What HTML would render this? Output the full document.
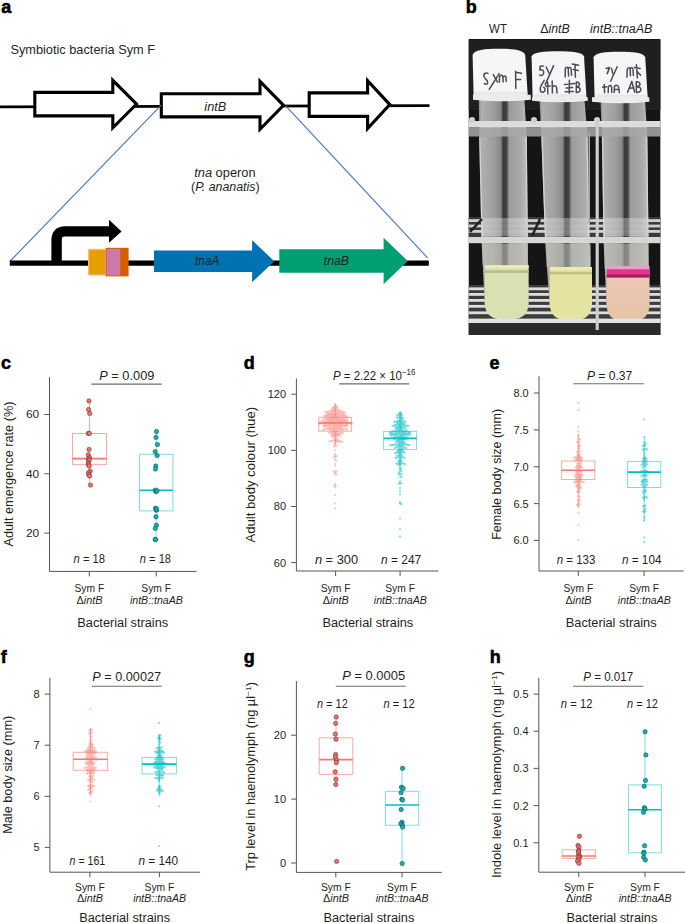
<!DOCTYPE html>
<html><head><meta charset="utf-8"><title>Figure</title>
<style>html,body{margin:0;padding:0;background:#fff;} body{width:685px;height:923px;overflow:hidden;font-family:"Liberation Sans", sans-serif;} svg{display:block;}</style>
</head><body>
<svg width="685" height="923" viewBox="0 0 685 923" font-family='"Liberation Sans", sans-serif'><defs>
<linearGradient id="glass" x1="0" x2="1" y1="0" y2="0">
<stop offset="0" stop-color="#8c8c8c"/><stop offset="0.05" stop-color="#b8b8b8"/>
<stop offset="0.3" stop-color="#a4a6a4"/><stop offset="0.44" stop-color="#8e8e8e"/>
<stop offset="0.49" stop-color="#3a3a3a"/><stop offset="0.56" stop-color="#454545"/><stop offset="0.61" stop-color="#a2a2a2"/>
<stop offset="0.85" stop-color="#b2b2b2"/><stop offset="0.95" stop-color="#c4c4c4"/><stop offset="1" stop-color="#8a8a8a"/>
</linearGradient>
<linearGradient id="pinkliq" x1="0" x2="0" y1="0" y2="1">
<stop offset="0" stop-color="#f0c6c0"/><stop offset="0.4" stop-color="#ebc6b0"/><stop offset="1" stop-color="#e5c6a4"/>
</linearGradient>
</defs><text x="1.20" y="12.90" font-size="18" text-anchor="start" fill="#000" font-weight="bold" stroke="#000" stroke-width="0.55">a</text>
<text x="10.40" y="54.10" font-size="13" text-anchor="start" fill="#231f20" textLength="144.70" lengthAdjust="spacingAndGlyphs" >Symbiotic bacteria Sym F</text>
<line x1="0" y1="106.9" x2="429.5" y2="105.6" stroke="#000" stroke-width="2.7"/>
<polygon points="34.80,92.35 112.80,92.35 112.80,80.35 136.60,104.10 112.80,127.85 112.80,115.85 34.80,115.85" fill="#fff" stroke="#000" stroke-width="3.1" stroke-linejoin="miter" stroke-miterlimit="10"/>
<polygon points="161.30,93.70 260.00,93.70 260.00,81.30 283.50,105.30 260.00,129.30 260.00,116.90 161.30,116.90" fill="#fff" stroke="#000" stroke-width="3.1" stroke-linejoin="miter" stroke-miterlimit="10"/>
<polygon points="309.20,92.85 367.60,92.85 367.60,80.60 389.80,104.60 367.60,128.60 367.60,116.35 309.20,116.35" fill="#fff" stroke="#000" stroke-width="3.1" stroke-linejoin="miter" stroke-miterlimit="10"/>
<text x="215.30" y="111.00" font-size="12.5" text-anchor="middle" fill="#231f20" font-style="italic" textLength="21.90" lengthAdjust="spacingAndGlyphs" >intB</text>
<line x1="161.2" y1="105.2" x2="9.8" y2="261.5" stroke="#4472c4" stroke-width="1.1"/>
<line x1="285.5" y1="105.6" x2="427.6" y2="257.9" stroke="#4472c4" stroke-width="1.1"/>
<text x="224.90" y="176.80" font-size="12.5" text-anchor="middle" fill="#231f20" textLength="61.30" lengthAdjust="spacingAndGlyphs" ><tspan font-style="italic">tna</tspan><tspan> operon</tspan></text>
<text x="225.30" y="191.40" font-size="12.5" text-anchor="middle" fill="#231f20" textLength="68.60" lengthAdjust="spacingAndGlyphs" ><tspan>(</tspan><tspan font-style="italic">P. ananatis</tspan><tspan>)</tspan></text>
<line x1="9.8" y1="263.2" x2="428.8" y2="263.2" stroke="#000" stroke-width="5.2"/>
<path d="M56.6,261 L56.6,240 Q56.6,231.4 65,231.4 L110,231.4" fill="none" stroke="#000" stroke-width="10.4"/>
<polygon points="109,219.7 121.6,231.4 109,242.8" fill="#000"/>
<rect x="88.6" y="249.4" width="17" height="25.6" fill="#e69f00" stroke="#f5b98a" stroke-width="1.2"/>
<rect x="105.6" y="247.8" width="23" height="28.6" fill="#d55e00"/>
<rect x="106.6" y="248.8" width="13.6" height="26.6" fill="#cc79a7"/>
<polygon points="154.00,250.45 252.10,250.45 252.10,240.15 274.30,261.20 252.10,282.25 252.10,271.95 154.00,271.95" fill="#0072b2"/>
<polygon points="279.30,249.35 383.60,249.35 383.60,237.70 407.70,261.00 383.60,284.30 383.60,272.65 279.30,272.65" fill="#009e73"/>
<text x="207.20" y="264.90" font-size="12.5" text-anchor="middle" fill="#231f20" font-style="italic" textLength="24.40" lengthAdjust="spacingAndGlyphs" >tnaA</text>
<text x="336.40" y="264.70" font-size="12.5" text-anchor="middle" fill="#231f20" font-style="italic" textLength="25.10" lengthAdjust="spacingAndGlyphs" >tnaB</text>
<text x="465.80" y="13.10" font-size="18" text-anchor="start" fill="#000" font-weight="bold" stroke="#000" stroke-width="0.55">b</text>
<text x="498.00" y="32.80" font-size="12" text-anchor="middle" fill="#231f20" textLength="17.80" lengthAdjust="spacingAndGlyphs" >WT</text>
<text x="555.00" y="32.80" font-size="12" text-anchor="middle" fill="#231f20" textLength="29.50" lengthAdjust="spacingAndGlyphs" ><tspan>Δ</tspan><tspan font-style="italic">intB</tspan></text>
<text x="621.20" y="32.80" font-size="12" text-anchor="middle" fill="#231f20" textLength="62.40" lengthAdjust="spacingAndGlyphs" ><tspan font-style="italic">intB::tnaAB</tspan></text>
<clipPath id="pc"><rect x="468.5" y="39.0" width="192.10000000000002" height="296.0"/></clipPath>
<g clip-path="url(#pc)"><rect x="468.5" y="39.0" width="192.10000000000002" height="296.0" fill="#151515"/><rect x="468.5" y="40" width="192.10000000000002" height="70" fill="#1f1f1f"/><rect x="468.5" y="217" width="192.10000000000002" height="20" fill="#3a3a3a"/><rect x="468.5" y="285" width="192.10000000000002" height="34" fill="#3c3c3c"/><rect x="468.5" y="323" width="192.10000000000002" height="12" fill="#2a2a2a"/><rect x="468.5" y="219.2" width="192.10000000000002" height="2.8" fill="#cfcfcf"/><rect x="468.5" y="224.6" width="192.10000000000002" height="2.8" fill="#cfcfcf"/><rect x="468.5" y="230.0" width="192.10000000000002" height="2.8" fill="#cfcfcf"/><rect x="468.5" y="287.4" width="192.10000000000002" height="2.8" fill="#dedede"/><rect x="468.5" y="293.0" width="192.10000000000002" height="2.8" fill="#dedede"/><rect x="468.5" y="299.0" width="192.10000000000002" height="2.8" fill="#dedede"/><rect x="468.5" y="304.9" width="192.10000000000002" height="2.8" fill="#dedede"/><rect x="468.5" y="311.4" width="192.10000000000002" height="2.8" fill="#dedede"/><polygon points="478.8,100 524.4,100 526.8,137 527.8,240 528.6,306 484.8,306 481.5,240 479.2,137" fill="url(#glass)" opacity="0.95"/><path d="M479.8,137 L482.1,238 M526.1999999999999,137 L527.1999999999999,238" stroke="#dcdcdc" stroke-width="1.3" opacity="0.85"/><polygon points="481.086,218 527.62,218 527.8,236 481.5,236" fill="#e0e0e0" opacity="0.35"/><polygon points="539.5,100 584.5,100 587.6,137 589.5,240 592.0,306 549.7,306 545.0,240 541.4,137" fill="url(#glass)" opacity="0.95"/><path d="M542.0,137 L545.6,238 M587.0,137 L588.9,238" stroke="#dcdcdc" stroke-width="1.3" opacity="0.85"/><polygon points="544.352,218 589.158,218 589.5,236 545.0,236" fill="#e0e0e0" opacity="0.35"/><polygon points="600.5,100 645.0,100 647.3,137 648.5,240 649.5,306 606.6,306 603.5,240 601.9,137" fill="url(#glass)" opacity="0.95"/><path d="M602.5,137 L604.1,238 M646.6999999999999,137 L647.9,238" stroke="#dcdcdc" stroke-width="1.3" opacity="0.85"/><polygon points="603.212,218 648.284,218 648.5,236 603.5,236" fill="#e0e0e0" opacity="0.35"/><rect x="468.5" y="121.0" width="192.10000000000002" height="6.5" fill="#dcdcdc"/><rect x="468.5" y="127.5" width="192.10000000000002" height="9" fill="#a8a8a8" opacity="0.85"/><rect x="468.5" y="237.0" width="192.10000000000002" height="6.2" fill="#d6d6d6"/><circle cx="472" cy="120" r="3" fill="#d0d0d0"/><circle cx="534" cy="120" r="3" fill="#d0d0d0"/><circle cx="597" cy="120" r="3" fill="#d0d0d0"/><line x1="470" y1="232" x2="482" y2="219" stroke="#222" stroke-width="2.5"/><line x1="532" y1="236" x2="540" y2="219" stroke="#222" stroke-width="2.5"/><rect x="482.5" y="244" width="45.5" height="21.19999999999999" fill="#c4c4c0" opacity="0.55"/><rect x="546.5" y="244" width="44.5" height="23.0" fill="#c4c4c0" opacity="0.55"/><rect x="604.5" y="244" width="44.0" height="24.399999999999977" fill="#c4c4c0" opacity="0.55"/><path d="M484.8,265.2 L528.6,265.2 L528.6,302.2 Q528.6,319.2 511.6,319.2 L501.8,319.2 Q484.8,319.2 484.8,302.2 Z" fill="#d9e0b1"/><rect x="484.8" y="265.2" width="43.8" height="3" fill="#eaedb8"/><rect x="484.8" y="270.3" width="43.8" height="2.6" fill="#b9bd8c"/><path d="M549.7,267.0 L592.0,267.0 L592.0,303.0 Q592.0,320.0 575.0,320.0 L566.7,320.0 Q549.7,320.0 549.7,303.0 Z" fill="#e5e3a2"/><rect x="549.7" y="267.0" width="42.3" height="3" fill="#ecebb2"/><rect x="549.7" y="271.8" width="42.3" height="2.6" fill="#c2bf80"/><path d="M606.6,268.4 L649.5,268.4 L649.5,304.0 Q649.5,321.0 632.5,321.0 L623.6,321.0 Q606.6,321.0 606.6,304.0 Z" fill="url(#pinkliq)"/><rect x="606.6" y="266.0" width="42.9" height="3.2" fill="#e7a0c8"/><rect x="606.6" y="269.2" width="42.9" height="5" fill="#e0358f"/><rect x="606.6" y="274.2" width="42.9" height="3.4" fill="#aa1a5c"/><rect x="468.5" y="318.6" width="192.10000000000002" height="4.4" fill="#e2e2e2"/><rect x="595.6" y="120" width="3.2" height="210" fill="#cdcdcd"/><rect x="588.4" y="132" width="1.6" height="92" fill="#a8a8a8"/><path d="M473.6,95.7 L472.6,55.0 C474.1,49.7 484.90000000000003,48.7 498.90000000000003,48.7 C512.9000000000001,48.7 523.7,49.7 525.2,55.0 L527.7,95.7 Z" fill="#f6f6f6"/><path d="M473.0,94.7 L530.8,94.7 L530.8,99.8 Q501.9,102.8 473.0,99.8 Z" fill="#ececec"/><rect x="474.6" y="91.7" width="52.60000000000002" height="3" fill="#e9e9e9"/><path d="M532.6,98.2 L531.6,56.3 C533.1,52.2 543.8,51.2 557.8,51.2 C571.8,51.2 582.5,52.2 584.0,56.3 L586.5,98.2 Z" fill="#f6f6f6"/><path d="M532.0,97.2 L587.8,97.2 L587.8,100.8 Q559.9,103.8 532.0,100.8 Z" fill="#ececec"/><rect x="533.6" y="94.2" width="52.39999999999998" height="3" fill="#e9e9e9"/><path d="M594.6,98.2 L593.6,57.3 C595.1,52.7 605.4000000000001,51.7 619.4000000000001,51.7 C633.4000000000001,51.7 643.7,52.7 645.2,57.3 L647.7,98.2 Z" fill="#f6f6f6"/><path d="M592.0,97.2 L649.3,97.2 L649.3,101.8 Q620.65,104.8 592.0,101.8 Z" fill="#ececec"/><rect x="595.6" y="94.2" width="51.60000000000002" height="3" fill="#e9e9e9"/><g fill="none" stroke="#4a4a56" stroke-width="1.5" stroke-linecap="round" stroke-linejoin="round"><path d="M488,73.4 C485.5,72.2 482.8,73.8 484.2,77 C485.6,79.6 488.6,80.6 487.6,83.2 C487,84.8 485,84.6 484.4,83.4"/><path d="M493.3,74.6 L497.4,82"/><path d="M499.2,73.6 L489.2,89.4"/><path d="M499.3,82.2 L499.6,76.2 C501,74.4 503,75 503,78 L503.1,82 M503,77.4 C504.4,75.2 506.2,75.6 506.1,78.2 L506.2,81.4"/><path d="M515.6,71.2 L515.8,88.6 M515.6,72.2 L521.6,73.2 M515.8,79.2 L520.6,79.6"/><path d="M543.2,66 L540.2,66.2 L539.8,70 C542.2,69 544.2,70.6 543.6,73.2 C543,75.6 541,76 539.6,75"/><path d="M546.2,67 L549.6,74.2"/><path d="M553.6,65.6 L545.2,84.6"/><path d="M565.2,77 L565.3,68.4 C566.3,66.6 567.8,67 568.2,69 L568.6,76 M568.3,69 C569.2,66.6 570.8,67 571.1,69.2 L571.6,75.2"/><path d="M572.2,64 L578.6,65.2 M575,64.6 L575.4,77.2 M573.2,69.6 L578.2,70.6"/><path d="M544.2,80.4 L541.2,85.4 C539.4,89.2 540.2,92.8 543,92.2 C545.6,91.6 545.6,88.2 543.6,87.2"/><path d="M547.6,82 L547.8,93.8 M545.6,86.2 L550.2,86"/><path d="M552.2,81 L552.4,93 M552.4,87.2 C553.8,85 556.2,85.2 556.6,87.6 L557,93"/><path d="M564.6,84.4 L575,83.4 M569.4,80.2 L569.2,93.2 M565.2,91.8 L573.4,91.6 M566,88 L572.6,87.6"/><path d="M576.4,82 L576.2,92.4 M576.4,82 C580.4,81.8 580.6,86.2 576.6,87 C581.2,87.2 581.8,92.4 576.2,92.4"/><path d="M606.2,68.4 L609.6,67.6 L607.2,73.6"/><path d="M611.6,68.4 L612.8,73.6"/><path d="M617.2,66.8 L610.6,81.2"/><path d="M627,77.2 L627.2,69.2 C628.2,67 629.8,67.4 630.2,69.4 L630.4,75.8 M630.3,69.4 C631.2,66.8 632.8,67.2 633,69.6 L633.4,75.4"/><path d="M636.4,64.8 L637.4,78 M634.4,67.4 L640.2,68.4 M636.8,71.2 L640.6,75.2"/><path d="M604.2,84.4 L604.6,92.8 M602.6,87.2 L606.6,86.8"/><path d="M608.2,92.6 L608.4,86.6 C609.4,84.8 611.4,85.2 611.6,87.4 L611.8,92.4"/><path d="M614.2,92.6 L614.4,86.4 C615.8,84.8 618,85 618.6,87 L619.4,92.6 M614.6,89.6 L618.8,89.4"/><path d="M627.6,92.2 L631.8,81.4 L634.6,92 M629.4,88.2 L633.8,87.8"/><path d="M636.2,81.8 L636.4,92.4 M636.2,81.8 C641,81.4 641.4,86 636.6,86.8 C642.2,86.8 642.6,92.4 636.4,92.4"/></g></g>
<text x="1.00" y="368.50" font-size="18" text-anchor="start" fill="#000" font-weight="bold" stroke="#000" stroke-width="0.55">c</text>
<line x1="89.50" y1="400.90" x2="89.50" y2="433.50" stroke="#fba9a4" stroke-width="1"/>
<line x1="89.50" y1="464.60" x2="89.50" y2="485.10" stroke="#fba9a4" stroke-width="1"/>
<rect x="72.50" y="433.50" width="34.00" height="31.10" fill="none" stroke="#fba9a4" stroke-width="1"/>
<line x1="72.50" y1="458.60" x2="106.50" y2="458.60" stroke="#f8766d" stroke-width="1.6"/>
<line x1="156.20" y1="431.50" x2="156.20" y2="454.30" stroke="#7fdcdf" stroke-width="1"/>
<line x1="156.20" y1="510.90" x2="156.20" y2="539.50" stroke="#7fdcdf" stroke-width="1"/>
<rect x="139.50" y="454.30" width="33.40" height="56.60" fill="none" stroke="#7fdcdf" stroke-width="1"/>
<line x1="139.50" y1="490.30" x2="172.90" y2="490.30" stroke="#00bfc4" stroke-width="1.6"/>
<g fill="#f0706a" stroke="#4a2a28" stroke-width="0.5"><circle cx="88.98" cy="400.90" r="2.2"/><circle cx="88.56" cy="409.50" r="2.2"/><circle cx="89.76" cy="413.40" r="2.2"/><circle cx="88.37" cy="433.40" r="2.2"/><circle cx="89.49" cy="433.40" r="2.2"/><circle cx="89.08" cy="449.40" r="2.2"/><circle cx="88.34" cy="454.80" r="2.2"/><circle cx="89.42" cy="457.70" r="2.2"/><circle cx="88.29" cy="459.00" r="2.2"/><circle cx="89.24" cy="460.10" r="2.2"/><circle cx="88.37" cy="462.60" r="2.2"/><circle cx="88.42" cy="464.50" r="2.2"/><circle cx="89.22" cy="466.00" r="2.2"/><circle cx="90.18" cy="471.30" r="2.2"/><circle cx="88.50" cy="472.80" r="2.2"/><circle cx="88.74" cy="474.70" r="2.2"/><circle cx="89.71" cy="476.00" r="2.2"/><circle cx="90.47" cy="485.10" r="2.2"/></g>
<g fill="#13b1b6" stroke="#0d3f40" stroke-width="0.5"><circle cx="156.49" cy="431.50" r="2.2"/><circle cx="156.05" cy="437.40" r="2.2"/><circle cx="157.44" cy="444.50" r="2.2"/><circle cx="155.21" cy="451.70" r="2.2"/><circle cx="157.16" cy="455.60" r="2.2"/><circle cx="155.80" cy="466.00" r="2.2"/><circle cx="155.45" cy="469.00" r="2.2"/><circle cx="155.38" cy="490.10" r="2.2"/><circle cx="155.84" cy="491.60" r="2.2"/><circle cx="157.06" cy="490.80" r="2.2"/><circle cx="155.53" cy="508.30" r="2.2"/><circle cx="156.50" cy="510.20" r="2.2"/><circle cx="156.63" cy="509.00" r="2.2"/><circle cx="155.99" cy="516.70" r="2.2"/><circle cx="156.41" cy="525.20" r="2.2"/><circle cx="155.25" cy="528.40" r="2.2"/><circle cx="155.24" cy="539.50" r="2.2"/><circle cx="155.59" cy="539.50" r="2.2"/></g>
<path d="M49.5,377.2 L49.5,571.4 L196.5,571.4" fill="none" stroke="#555555" stroke-width="1"/>
<line x1="44.3" y1="414.5" x2="49.5" y2="414.5" stroke="#555555" stroke-width="1"/>
<text x="39.20" y="418.40" font-size="11" text-anchor="end" fill="#231f20" textLength="13.20" lengthAdjust="spacingAndGlyphs" >60</text>
<line x1="44.3" y1="473.8" x2="49.5" y2="473.8" stroke="#555555" stroke-width="1"/>
<text x="39.20" y="477.70" font-size="11" text-anchor="end" fill="#231f20" textLength="13.20" lengthAdjust="spacingAndGlyphs" >40</text>
<line x1="44.3" y1="533.1" x2="49.5" y2="533.1" stroke="#555555" stroke-width="1"/>
<text x="39.20" y="537.00" font-size="11" text-anchor="end" fill="#231f20" textLength="13.20" lengthAdjust="spacingAndGlyphs" >20</text>
<line x1="89.3" y1="571.4" x2="89.3" y2="576.4" stroke="#555555" stroke-width="1"/>
<line x1="156.2" y1="571.4" x2="156.2" y2="576.4" stroke="#555555" stroke-width="1"/>
<text x="89.30" y="592.20" font-size="10" text-anchor="middle" fill="#231f20" textLength="29.80" lengthAdjust="spacingAndGlyphs" >Sym F</text>
<text x="156.20" y="592.20" font-size="10" text-anchor="middle" fill="#231f20" textLength="29.80" lengthAdjust="spacingAndGlyphs" >Sym F</text>
<text x="89.50" y="603.80" font-size="10" text-anchor="middle" fill="#231f20" textLength="26.00" lengthAdjust="spacingAndGlyphs" ><tspan>Δ</tspan><tspan font-style="italic">intB</tspan></text>
<text x="156.40" y="603.80" font-size="10" text-anchor="middle" fill="#231f20" textLength="52.90" lengthAdjust="spacingAndGlyphs" ><tspan font-style="italic">intB::tnaAB</tspan></text>
<text x="122.75" y="627.00" font-size="12.3" text-anchor="middle" fill="#231f20" textLength="90.80" lengthAdjust="spacingAndGlyphs" >Bacterial strains</text>
<text x="89.30" y="562.90" font-size="12" text-anchor="middle" fill="#231f20" textLength="31.50" lengthAdjust="spacingAndGlyphs" ><tspan font-style="italic">n</tspan><tspan> = 18</tspan></text>
<text x="155.40" y="562.90" font-size="12" text-anchor="middle" fill="#231f20" textLength="31.20" lengthAdjust="spacingAndGlyphs" ><tspan font-style="italic">n</tspan><tspan> = 18</tspan></text>
<line x1="91.3" y1="384.1" x2="161.8" y2="384.1" stroke="#6d6d6d" stroke-width="1.1"/>
<text x="126.80" y="380.00" font-size="12.3" text-anchor="middle" fill="#231f20" textLength="55.20" lengthAdjust="spacingAndGlyphs" ><tspan font-style="italic">P</tspan><tspan> = 0.009</tspan></text>
<text x="12.50" y="474.00" font-size="12.2" text-anchor="middle" fill="#231f20" textLength="145.10" lengthAdjust="spacingAndGlyphs" transform="rotate(-90 12.50 474.00)" >Adult emergence rate (%)</text>
<text x="243.80" y="369.00" font-size="18" text-anchor="start" fill="#000" font-weight="bold" stroke="#000" stroke-width="0.55">d</text>
<line x1="335.20" y1="403.80" x2="335.20" y2="417.40" stroke="#fba9a4" stroke-width="1"/>
<line x1="335.20" y1="431.20" x2="335.20" y2="445.00" stroke="#fba9a4" stroke-width="1"/>
<rect x="318.80" y="417.40" width="32.80" height="13.80" fill="none" stroke="#fba9a4" stroke-width="1"/>
<line x1="318.80" y1="423.00" x2="351.60" y2="423.00" stroke="#f8766d" stroke-width="1.6"/>
<line x1="400.10" y1="411.60" x2="400.10" y2="431.40" stroke="#7fdcdf" stroke-width="1"/>
<line x1="400.10" y1="449.60" x2="400.10" y2="470.00" stroke="#7fdcdf" stroke-width="1"/>
<rect x="383.60" y="431.40" width="33.00" height="18.20" fill="none" stroke="#7fdcdf" stroke-width="1"/>
<line x1="383.60" y1="438.40" x2="416.60" y2="438.40" stroke="#00bfc4" stroke-width="1.6"/>
<g fill="#f8766d" fill-opacity="0.42"><circle cx="335.20" cy="403.98" r="1.1"/><circle cx="335.20" cy="405.73" r="1.1"/><circle cx="336.70" cy="406.06" r="1.1"/><circle cx="334.45" cy="406.97" r="1.1"/><circle cx="332.95" cy="407.16" r="1.1"/><circle cx="335.70" cy="407.52" r="1.1"/><circle cx="337.20" cy="407.52" r="1.1"/><circle cx="334.45" cy="408.33" r="1.1"/><circle cx="332.45" cy="408.49" r="1.1"/><circle cx="335.70" cy="409.06" r="1.1"/><circle cx="333.70" cy="409.45" r="1.1"/><circle cx="337.20" cy="409.47" r="1.1"/><circle cx="338.70" cy="409.60" r="1.1"/><circle cx="332.45" cy="410.01" r="1.1"/><circle cx="334.95" cy="410.25" r="1.1"/><circle cx="330.95" cy="410.37" r="1.1"/><circle cx="339.95" cy="410.45" r="1.1"/><circle cx="336.20" cy="411.04" r="1.1"/><circle cx="333.70" cy="411.14" r="1.1"/><circle cx="337.70" cy="411.23" r="1.1"/><circle cx="329.70" cy="411.27" r="1.1"/><circle cx="331.95" cy="411.32" r="1.1"/><circle cx="341.20" cy="411.34" r="1.1"/><circle cx="328.20" cy="411.42" r="1.1"/><circle cx="342.70" cy="411.48" r="1.1"/><circle cx="334.95" cy="411.76" r="1.1"/><circle cx="338.95" cy="411.85" r="1.1"/><circle cx="326.70" cy="411.91" r="1.1"/><circle cx="344.20" cy="411.91" r="1.1"/><circle cx="325.20" cy="412.14" r="1.1"/><circle cx="336.45" cy="412.37" r="1.1"/><circle cx="333.20" cy="412.46" r="1.1"/><circle cx="331.45" cy="412.58" r="1.1"/><circle cx="340.20" cy="412.61" r="1.1"/><circle cx="337.70" cy="412.99" r="1.1"/><circle cx="335.20" cy="413.24" r="1.1"/><circle cx="330.20" cy="413.27" r="1.1"/><circle cx="341.45" cy="413.32" r="1.1"/><circle cx="328.70" cy="413.40" r="1.1"/><circle cx="342.95" cy="413.44" r="1.1"/><circle cx="327.20" cy="413.44" r="1.1"/><circle cx="344.45" cy="413.47" r="1.1"/><circle cx="336.45" cy="413.96" r="1.1"/><circle cx="333.95" cy="414.00" r="1.1"/><circle cx="332.45" cy="414.05" r="1.1"/><circle cx="338.70" cy="414.06" r="1.1"/><circle cx="340.20" cy="414.37" r="1.1"/><circle cx="330.95" cy="414.44" r="1.1"/><circle cx="335.20" cy="414.65" r="1.1"/><circle cx="329.45" cy="414.67" r="1.1"/><circle cx="341.70" cy="414.74" r="1.1"/><circle cx="327.95" cy="414.85" r="1.1"/><circle cx="337.45" cy="414.88" r="1.1"/><circle cx="343.20" cy="415.08" r="1.1"/><circle cx="333.20" cy="415.20" r="1.1"/><circle cx="326.45" cy="415.21" r="1.1"/><circle cx="344.70" cy="415.29" r="1.1"/><circle cx="339.20" cy="415.32" r="1.1"/><circle cx="324.95" cy="415.44" r="1.1"/><circle cx="346.20" cy="415.49" r="1.1"/><circle cx="336.20" cy="415.59" r="1.1"/><circle cx="334.45" cy="415.79" r="1.1"/><circle cx="331.95" cy="415.90" r="1.1"/><circle cx="330.45" cy="415.93" r="1.1"/><circle cx="337.45" cy="416.23" r="1.1"/><circle cx="340.20" cy="416.25" r="1.1"/><circle cx="328.95" cy="416.36" r="1.1"/><circle cx="341.70" cy="416.37" r="1.1"/><circle cx="327.45" cy="416.37" r="1.1"/><circle cx="343.20" cy="416.45" r="1.1"/><circle cx="325.95" cy="416.51" r="1.1"/><circle cx="323.95" cy="416.51" r="1.1"/><circle cx="333.20" cy="416.61" r="1.1"/><circle cx="335.45" cy="416.80" r="1.1"/><circle cx="338.70" cy="416.98" r="1.1"/><circle cx="344.45" cy="417.01" r="1.1"/><circle cx="331.20" cy="417.14" r="1.1"/><circle cx="345.95" cy="417.17" r="1.1"/><circle cx="347.45" cy="417.23" r="1.1"/><circle cx="336.70" cy="417.43" r="1.1"/><circle cx="334.45" cy="417.74" r="1.1"/><circle cx="332.45" cy="417.83" r="1.1"/><circle cx="339.95" cy="417.87" r="1.1"/><circle cx="330.20" cy="418.08" r="1.1"/><circle cx="335.70" cy="418.41" r="1.1"/><circle cx="337.70" cy="418.43" r="1.1"/><circle cx="341.20" cy="418.48" r="1.1"/><circle cx="328.70" cy="418.57" r="1.1"/><circle cx="342.70" cy="418.63" r="1.1"/><circle cx="327.20" cy="418.70" r="1.1"/><circle cx="333.45" cy="418.76" r="1.1"/><circle cx="331.70" cy="418.97" r="1.1"/><circle cx="338.95" cy="419.03" r="1.1"/><circle cx="344.20" cy="419.10" r="1.1"/><circle cx="325.70" cy="419.16" r="1.1"/><circle cx="345.70" cy="419.29" r="1.1"/><circle cx="334.70" cy="419.42" r="1.1"/><circle cx="336.70" cy="419.42" r="1.1"/><circle cx="330.20" cy="419.43" r="1.1"/><circle cx="324.20" cy="419.51" r="1.1"/><circle cx="347.20" cy="419.51" r="1.1"/><circle cx="340.20" cy="419.70" r="1.1"/><circle cx="341.70" cy="419.82" r="1.1"/><circle cx="332.70" cy="419.89" r="1.1"/><circle cx="337.95" cy="419.99" r="1.1"/><circle cx="328.95" cy="420.14" r="1.1"/><circle cx="327.45" cy="420.18" r="1.1"/><circle cx="343.20" cy="420.23" r="1.1"/><circle cx="322.95" cy="420.32" r="1.1"/><circle cx="335.70" cy="420.36" r="1.1"/><circle cx="331.45" cy="420.45" r="1.1"/><circle cx="333.95" cy="420.59" r="1.1"/><circle cx="339.20" cy="420.66" r="1.1"/><circle cx="325.95" cy="420.66" r="1.1"/><circle cx="344.45" cy="420.76" r="1.1"/><circle cx="345.95" cy="420.77" r="1.1"/><circle cx="347.70" cy="420.79" r="1.1"/><circle cx="321.45" cy="420.82" r="1.1"/><circle cx="336.95" cy="420.97" r="1.1"/><circle cx="330.20" cy="421.11" r="1.1"/><circle cx="340.70" cy="421.15" r="1.1"/><circle cx="332.70" cy="421.28" r="1.1"/><circle cx="342.20" cy="421.38" r="1.1"/><circle cx="328.70" cy="421.48" r="1.1"/><circle cx="334.95" cy="421.59" r="1.1"/><circle cx="338.20" cy="421.65" r="1.1"/><circle cx="327.20" cy="421.78" r="1.1"/><circle cx="331.45" cy="421.85" r="1.1"/><circle cx="343.45" cy="421.95" r="1.1"/><circle cx="339.70" cy="422.08" r="1.1"/><circle cx="336.20" cy="422.10" r="1.1"/><circle cx="325.70" cy="422.13" r="1.1"/><circle cx="344.95" cy="422.15" r="1.1"/><circle cx="324.20" cy="422.16" r="1.1"/><circle cx="333.70" cy="422.38" r="1.1"/><circle cx="346.45" cy="422.38" r="1.1"/><circle cx="329.95" cy="422.45" r="1.1"/><circle cx="341.20" cy="422.45" r="1.1"/><circle cx="322.70" cy="422.49" r="1.1"/><circle cx="347.95" cy="422.50" r="1.1"/><circle cx="337.45" cy="422.85" r="1.1"/><circle cx="332.45" cy="422.94" r="1.1"/><circle cx="334.95" cy="422.94" r="1.1"/><circle cx="328.70" cy="422.96" r="1.1"/><circle cx="342.45" cy="423.01" r="1.1"/><circle cx="326.95" cy="423.12" r="1.1"/><circle cx="338.95" cy="423.25" r="1.1"/><circle cx="343.95" cy="423.27" r="1.1"/><circle cx="324.95" cy="423.29" r="1.1"/><circle cx="321.45" cy="423.34" r="1.1"/><circle cx="349.20" cy="423.35" r="1.1"/><circle cx="330.95" cy="423.38" r="1.1"/><circle cx="319.95" cy="423.38" r="1.1"/><circle cx="350.70" cy="423.39" r="1.1"/><circle cx="345.45" cy="423.41" r="1.1"/><circle cx="336.20" cy="423.58" r="1.1"/><circle cx="340.45" cy="423.61" r="1.1"/><circle cx="318.45" cy="423.61" r="1.1"/><circle cx="346.95" cy="423.65" r="1.1"/><circle cx="323.45" cy="423.69" r="1.1"/><circle cx="352.20" cy="423.70" r="1.1"/><circle cx="333.70" cy="423.81" r="1.1"/><circle cx="329.70" cy="424.04" r="1.1"/><circle cx="327.95" cy="424.13" r="1.1"/><circle cx="334.95" cy="424.37" r="1.1"/><circle cx="337.45" cy="424.46" r="1.1"/><circle cx="332.45" cy="424.49" r="1.1"/><circle cx="339.45" cy="424.57" r="1.1"/><circle cx="341.45" cy="424.61" r="1.1"/><circle cx="342.95" cy="424.63" r="1.1"/><circle cx="330.95" cy="424.77" r="1.1"/><circle cx="326.70" cy="424.84" r="1.1"/><circle cx="344.45" cy="424.95" r="1.1"/><circle cx="325.20" cy="424.97" r="1.1"/><circle cx="336.20" cy="424.98" r="1.1"/><circle cx="345.95" cy="425.01" r="1.1"/><circle cx="333.95" cy="425.33" r="1.1"/><circle cx="329.45" cy="425.39" r="1.1"/><circle cx="323.70" cy="425.41" r="1.1"/><circle cx="347.45" cy="425.45" r="1.1"/><circle cx="338.45" cy="425.56" r="1.1"/><circle cx="340.45" cy="425.69" r="1.1"/><circle cx="335.20" cy="425.99" r="1.1"/><circle cx="332.70" cy="426.00" r="1.1"/><circle cx="341.95" cy="426.01" r="1.1"/><circle cx="336.95" cy="426.20" r="1.1"/><circle cx="331.20" cy="426.27" r="1.1"/><circle cx="328.45" cy="426.33" r="1.1"/><circle cx="343.45" cy="426.37" r="1.1"/><circle cx="326.95" cy="426.39" r="1.1"/><circle cx="344.95" cy="426.40" r="1.1"/><circle cx="325.45" cy="426.41" r="1.1"/><circle cx="346.45" cy="426.43" r="1.1"/><circle cx="333.95" cy="426.75" r="1.1"/><circle cx="339.20" cy="426.78" r="1.1"/><circle cx="329.95" cy="426.81" r="1.1"/><circle cx="324.20" cy="426.93" r="1.1"/><circle cx="340.70" cy="427.02" r="1.1"/><circle cx="335.70" cy="427.30" r="1.1"/><circle cx="337.20" cy="427.75" r="1.1"/><circle cx="332.95" cy="427.81" r="1.1"/><circle cx="331.45" cy="427.95" r="1.1"/><circle cx="334.45" cy="428.07" r="1.1"/><circle cx="338.70" cy="428.24" r="1.1"/><circle cx="340.20" cy="428.33" r="1.1"/><circle cx="329.95" cy="428.39" r="1.1"/><circle cx="341.70" cy="428.49" r="1.1"/><circle cx="328.45" cy="428.50" r="1.1"/><circle cx="335.70" cy="428.80" r="1.1"/><circle cx="343.20" cy="428.81" r="1.1"/><circle cx="326.95" cy="428.87" r="1.1"/><circle cx="344.70" cy="428.88" r="1.1"/><circle cx="325.45" cy="428.96" r="1.1"/><circle cx="346.20" cy="428.98" r="1.1"/><circle cx="333.45" cy="429.10" r="1.1"/><circle cx="337.20" cy="429.22" r="1.1"/><circle cx="331.95" cy="429.45" r="1.1"/><circle cx="339.45" cy="429.46" r="1.1"/><circle cx="324.20" cy="429.48" r="1.1"/><circle cx="347.45" cy="429.52" r="1.1"/><circle cx="330.45" cy="429.70" r="1.1"/><circle cx="334.70" cy="429.73" r="1.1"/><circle cx="340.95" cy="429.75" r="1.1"/><circle cx="328.95" cy="429.80" r="1.1"/><circle cx="322.70" cy="429.87" r="1.1"/><circle cx="342.45" cy="429.98" r="1.1"/><circle cx="336.20" cy="430.23" r="1.1"/><circle cx="333.95" cy="430.97" r="1.1"/><circle cx="337.45" cy="431.04" r="1.1"/><circle cx="332.45" cy="431.18" r="1.1"/><circle cx="335.20" cy="431.90" r="1.1"/><circle cx="338.45" cy="432.04" r="1.1"/><circle cx="336.70" cy="432.30" r="1.1"/><circle cx="333.70" cy="432.31" r="1.1"/><circle cx="331.95" cy="432.47" r="1.1"/><circle cx="339.95" cy="432.52" r="1.1"/><circle cx="330.45" cy="432.68" r="1.1"/><circle cx="341.45" cy="432.96" r="1.1"/><circle cx="328.95" cy="433.08" r="1.1"/><circle cx="342.95" cy="433.20" r="1.1"/><circle cx="335.20" cy="433.47" r="1.1"/><circle cx="336.70" cy="433.69" r="1.1"/><circle cx="333.70" cy="433.80" r="1.1"/><circle cx="338.20" cy="434.01" r="1.1"/><circle cx="332.20" cy="434.13" r="1.1"/><circle cx="339.70" cy="434.26" r="1.1"/><circle cx="335.70" cy="434.73" r="1.1"/><circle cx="337.20" cy="435.04" r="1.1"/><circle cx="334.45" cy="435.24" r="1.1"/><circle cx="332.95" cy="435.32" r="1.1"/><circle cx="338.70" cy="435.35" r="1.1"/><circle cx="331.45" cy="435.46" r="1.1"/><circle cx="340.45" cy="435.48" r="1.1"/><circle cx="335.70" cy="436.08" r="1.1"/><circle cx="333.95" cy="436.56" r="1.1"/><circle cx="336.95" cy="436.76" r="1.1"/><circle cx="332.45" cy="436.88" r="1.1"/><circle cx="335.20" cy="437.99" r="1.1"/><circle cx="336.45" cy="438.52" r="1.1"/><circle cx="334.20" cy="439.08" r="1.1"/><circle cx="337.70" cy="439.37" r="1.1"/><circle cx="335.20" cy="440.27" r="1.1"/><circle cx="336.70" cy="440.59" r="1.1"/><circle cx="333.70" cy="440.76" r="1.1"/><circle cx="338.20" cy="440.88" r="1.1"/><circle cx="332.20" cy="440.94" r="1.1"/><circle cx="339.70" cy="441.03" r="1.1"/><circle cx="330.70" cy="441.09" r="1.1"/><circle cx="335.20" cy="441.63" r="1.1"/><circle cx="340.95" cy="441.66" r="1.1"/><circle cx="329.45" cy="441.75" r="1.1"/><circle cx="342.45" cy="441.82" r="1.1"/><circle cx="337.20" cy="441.85" r="1.1"/><circle cx="335.20" cy="443.90" r="1.1"/><circle cx="335.20" cy="445.63" r="1.1"/><circle cx="336.70" cy="445.99" r="1.1"/><circle cx="333.95" cy="446.45" r="1.1"/><circle cx="335.20" cy="450.01" r="1.1"/><circle cx="335.20" cy="453.90" r="1.1"/><circle cx="335.20" cy="455.50" r="1.1"/><circle cx="336.45" cy="456.05" r="1.1"/><circle cx="335.20" cy="456.94" r="1.1"/><circle cx="333.70" cy="457.24" r="1.1"/><circle cx="335.20" cy="459.64" r="1.1"/><circle cx="336.20" cy="460.66" r="1.1"/><circle cx="335.20" cy="463.76" r="1.1"/><circle cx="335.20" cy="465.51" r="1.1"/><circle cx="335.20" cy="471.32" r="1.1"/><circle cx="336.70" cy="471.35" r="1.1"/><circle cx="333.70" cy="471.73" r="1.1"/><circle cx="335.20" cy="473.06" r="1.1"/><circle cx="336.45" cy="473.79" r="1.1"/><circle cx="334.70" cy="474.37" r="1.1"/><circle cx="335.20" cy="484.10" r="1.1"/><circle cx="335.70" cy="485.42" r="1.1"/><circle cx="334.20" cy="485.82" r="1.1"/><circle cx="335.20" cy="487.32" r="1.1"/><circle cx="335.20" cy="495.03" r="1.1"/><circle cx="335.20" cy="503.50" r="1.1"/><circle cx="335.20" cy="508.50" r="1.1"/></g>
<g fill="#00bfc4" fill-opacity="0.5"><circle cx="400.00" cy="412.44" r="1.1"/><circle cx="401.50" cy="412.86" r="1.1"/><circle cx="399.50" cy="413.75" r="1.1"/><circle cx="400.75" cy="414.29" r="1.1"/><circle cx="398.25" cy="414.31" r="1.1"/><circle cx="402.00" cy="414.88" r="1.1"/><circle cx="399.50" cy="415.12" r="1.1"/><circle cx="397.25" cy="415.41" r="1.1"/><circle cx="400.75" cy="415.96" r="1.1"/><circle cx="399.75" cy="416.90" r="1.1"/><circle cx="401.00" cy="417.51" r="1.1"/><circle cx="398.50" cy="417.57" r="1.1"/><circle cx="402.50" cy="417.63" r="1.1"/><circle cx="397.00" cy="417.80" r="1.1"/><circle cx="400.00" cy="418.73" r="1.1"/><circle cx="401.50" cy="418.77" r="1.1"/><circle cx="403.25" cy="418.79" r="1.1"/><circle cx="400.00" cy="420.41" r="1.1"/><circle cx="401.50" cy="420.42" r="1.1"/><circle cx="398.75" cy="420.92" r="1.1"/><circle cx="402.75" cy="421.14" r="1.1"/><circle cx="397.25" cy="421.19" r="1.1"/><circle cx="404.25" cy="421.37" r="1.1"/><circle cx="395.75" cy="421.49" r="1.1"/><circle cx="400.50" cy="421.70" r="1.1"/><circle cx="405.75" cy="421.74" r="1.1"/><circle cx="394.25" cy="421.96" r="1.1"/><circle cx="399.25" cy="422.29" r="1.1"/><circle cx="401.75" cy="422.59" r="1.1"/><circle cx="398.00" cy="422.81" r="1.1"/><circle cx="400.50" cy="423.14" r="1.1"/><circle cx="403.00" cy="423.40" r="1.1"/><circle cx="396.75" cy="423.41" r="1.1"/><circle cx="404.50" cy="423.46" r="1.1"/><circle cx="399.75" cy="424.35" r="1.1"/><circle cx="401.25" cy="424.39" r="1.1"/><circle cx="398.25" cy="424.51" r="1.1"/><circle cx="402.50" cy="424.91" r="1.1"/><circle cx="396.75" cy="424.96" r="1.1"/><circle cx="404.00" cy="425.13" r="1.1"/><circle cx="395.25" cy="425.16" r="1.1"/><circle cx="405.50" cy="425.44" r="1.1"/><circle cx="400.50" cy="425.56" r="1.1"/><circle cx="399.00" cy="425.64" r="1.1"/><circle cx="394.00" cy="425.72" r="1.1"/><circle cx="407.00" cy="425.88" r="1.1"/><circle cx="392.50" cy="425.95" r="1.1"/><circle cx="408.50" cy="426.04" r="1.1"/><circle cx="401.50" cy="426.59" r="1.1"/><circle cx="398.00" cy="426.70" r="1.1"/><circle cx="400.00" cy="426.82" r="1.1"/><circle cx="403.00" cy="427.04" r="1.1"/><circle cx="396.75" cy="427.27" r="1.1"/><circle cx="404.50" cy="427.41" r="1.1"/><circle cx="395.25" cy="427.49" r="1.1"/><circle cx="401.00" cy="427.89" r="1.1"/><circle cx="399.50" cy="428.17" r="1.1"/><circle cx="398.00" cy="428.36" r="1.1"/><circle cx="402.50" cy="428.36" r="1.1"/><circle cx="405.50" cy="428.39" r="1.1"/><circle cx="396.50" cy="428.68" r="1.1"/><circle cx="400.00" cy="429.55" r="1.1"/><circle cx="401.50" cy="429.74" r="1.1"/><circle cx="398.50" cy="429.87" r="1.1"/><circle cx="403.00" cy="430.21" r="1.1"/><circle cx="397.00" cy="430.37" r="1.1"/><circle cx="404.50" cy="430.62" r="1.1"/><circle cx="395.50" cy="430.62" r="1.1"/><circle cx="406.00" cy="430.72" r="1.1"/><circle cx="400.00" cy="431.09" r="1.1"/><circle cx="401.50" cy="431.31" r="1.1"/><circle cx="398.50" cy="431.39" r="1.1"/><circle cx="394.25" cy="431.41" r="1.1"/><circle cx="407.25" cy="431.42" r="1.1"/><circle cx="392.75" cy="431.46" r="1.1"/><circle cx="403.25" cy="431.55" r="1.1"/><circle cx="396.50" cy="431.67" r="1.1"/><circle cx="404.75" cy="431.97" r="1.1"/><circle cx="408.50" cy="432.04" r="1.1"/><circle cx="391.50" cy="432.15" r="1.1"/><circle cx="410.00" cy="432.22" r="1.1"/><circle cx="390.00" cy="432.31" r="1.1"/><circle cx="400.00" cy="432.74" r="1.1"/><circle cx="401.50" cy="432.90" r="1.1"/><circle cx="398.50" cy="433.00" r="1.1"/><circle cx="403.00" cy="433.09" r="1.1"/><circle cx="397.00" cy="433.16" r="1.1"/><circle cx="395.50" cy="433.29" r="1.1"/><circle cx="404.50" cy="433.34" r="1.1"/><circle cx="406.00" cy="433.45" r="1.1"/><circle cx="394.00" cy="433.58" r="1.1"/><circle cx="407.50" cy="433.59" r="1.1"/><circle cx="392.50" cy="433.67" r="1.1"/><circle cx="409.00" cy="433.68" r="1.1"/><circle cx="391.00" cy="433.72" r="1.1"/><circle cx="410.50" cy="433.84" r="1.1"/><circle cx="389.50" cy="433.98" r="1.1"/><circle cx="400.00" cy="434.28" r="1.1"/><circle cx="401.50" cy="434.29" r="1.1"/><circle cx="398.50" cy="434.41" r="1.1"/><circle cx="403.00" cy="434.70" r="1.1"/><circle cx="397.00" cy="434.82" r="1.1"/><circle cx="404.50" cy="434.83" r="1.1"/><circle cx="395.50" cy="434.87" r="1.1"/><circle cx="406.00" cy="434.96" r="1.1"/><circle cx="394.00" cy="435.05" r="1.1"/><circle cx="407.50" cy="435.20" r="1.1"/><circle cx="392.50" cy="435.28" r="1.1"/><circle cx="409.00" cy="435.32" r="1.1"/><circle cx="400.50" cy="435.57" r="1.1"/><circle cx="402.00" cy="435.62" r="1.1"/><circle cx="391.00" cy="435.65" r="1.1"/><circle cx="399.25" cy="436.27" r="1.1"/><circle cx="397.75" cy="436.58" r="1.1"/><circle cx="403.00" cy="436.60" r="1.1"/><circle cx="396.25" cy="436.66" r="1.1"/><circle cx="404.50" cy="436.71" r="1.1"/><circle cx="401.00" cy="436.83" r="1.1"/><circle cx="395.00" cy="437.33" r="1.1"/><circle cx="405.75" cy="437.45" r="1.1"/><circle cx="393.50" cy="437.50" r="1.1"/><circle cx="407.25" cy="437.51" r="1.1"/><circle cx="400.00" cy="437.79" r="1.1"/><circle cx="398.50" cy="437.85" r="1.1"/><circle cx="402.00" cy="437.93" r="1.1"/><circle cx="397.00" cy="438.23" r="1.1"/><circle cx="403.50" cy="438.43" r="1.1"/><circle cx="395.50" cy="438.60" r="1.1"/><circle cx="400.75" cy="438.92" r="1.1"/><circle cx="404.75" cy="438.97" r="1.1"/><circle cx="399.25" cy="439.15" r="1.1"/><circle cx="394.25" cy="439.24" r="1.1"/><circle cx="402.25" cy="439.30" r="1.1"/><circle cx="406.25" cy="439.33" r="1.1"/><circle cx="398.00" cy="439.94" r="1.1"/><circle cx="403.50" cy="439.94" r="1.1"/><circle cx="400.00" cy="440.41" r="1.1"/><circle cx="401.50" cy="440.50" r="1.1"/><circle cx="396.75" cy="440.51" r="1.1"/><circle cx="398.75" cy="441.31" r="1.1"/><circle cx="402.50" cy="441.55" r="1.1"/><circle cx="400.25" cy="441.74" r="1.1"/><circle cx="397.50" cy="441.92" r="1.1"/><circle cx="403.75" cy="442.14" r="1.1"/><circle cx="396.00" cy="442.23" r="1.1"/><circle cx="401.50" cy="442.55" r="1.1"/><circle cx="399.50" cy="442.97" r="1.1"/><circle cx="405.00" cy="443.02" r="1.1"/><circle cx="402.75" cy="443.14" r="1.1"/><circle cx="400.50" cy="443.96" r="1.1"/><circle cx="399.00" cy="444.33" r="1.1"/><circle cx="402.00" cy="444.34" r="1.1"/><circle cx="397.50" cy="444.45" r="1.1"/><circle cx="403.50" cy="444.55" r="1.1"/><circle cx="396.00" cy="444.63" r="1.1"/><circle cx="405.00" cy="444.71" r="1.1"/><circle cx="394.50" cy="444.80" r="1.1"/><circle cx="406.50" cy="444.88" r="1.1"/><circle cx="393.00" cy="444.89" r="1.1"/><circle cx="408.00" cy="444.94" r="1.1"/><circle cx="391.50" cy="444.96" r="1.1"/><circle cx="409.50" cy="445.04" r="1.1"/><circle cx="400.00" cy="445.38" r="1.1"/><circle cx="390.25" cy="445.54" r="1.1"/><circle cx="401.50" cy="445.67" r="1.1"/><circle cx="398.50" cy="445.70" r="1.1"/><circle cx="403.00" cy="446.08" r="1.1"/><circle cx="397.25" cy="446.52" r="1.1"/><circle cx="400.00" cy="446.78" r="1.1"/><circle cx="401.50" cy="447.04" r="1.1"/><circle cx="398.50" cy="447.25" r="1.1"/><circle cx="403.50" cy="447.33" r="1.1"/><circle cx="396.25" cy="447.51" r="1.1"/><circle cx="404.75" cy="447.85" r="1.1"/><circle cx="394.75" cy="447.88" r="1.1"/><circle cx="406.25" cy="448.02" r="1.1"/><circle cx="400.00" cy="448.60" r="1.1"/><circle cx="401.50" cy="448.75" r="1.1"/><circle cx="398.50" cy="449.04" r="1.1"/><circle cx="402.75" cy="449.47" r="1.1"/><circle cx="400.00" cy="450.09" r="1.1"/><circle cx="401.50" cy="450.22" r="1.1"/><circle cx="399.00" cy="451.07" r="1.1"/><circle cx="397.50" cy="451.09" r="1.1"/><circle cx="402.50" cy="451.17" r="1.1"/><circle cx="400.25" cy="451.67" r="1.1"/><circle cx="401.50" cy="452.19" r="1.1"/><circle cx="403.50" cy="452.19" r="1.1"/><circle cx="399.25" cy="452.61" r="1.1"/><circle cx="397.75" cy="452.66" r="1.1"/><circle cx="396.25" cy="452.71" r="1.1"/><circle cx="404.75" cy="452.72" r="1.1"/><circle cx="394.75" cy="453.01" r="1.1"/><circle cx="400.25" cy="453.52" r="1.1"/><circle cx="399.00" cy="454.37" r="1.1"/><circle cx="401.50" cy="454.43" r="1.1"/><circle cx="400.00" cy="455.44" r="1.1"/><circle cx="398.25" cy="455.61" r="1.1"/><circle cx="402.00" cy="455.75" r="1.1"/><circle cx="396.75" cy="455.87" r="1.1"/><circle cx="400.00" cy="457.08" r="1.1"/><circle cx="401.50" cy="457.12" r="1.1"/><circle cx="398.50" cy="457.26" r="1.1"/><circle cx="403.00" cy="457.38" r="1.1"/><circle cx="397.00" cy="457.59" r="1.1"/><circle cx="404.50" cy="457.86" r="1.1"/><circle cx="395.50" cy="457.98" r="1.1"/><circle cx="400.00" cy="458.71" r="1.1"/><circle cx="400.75" cy="459.92" r="1.1"/><circle cx="399.25" cy="460.23" r="1.1"/><circle cx="401.50" cy="461.07" r="1.1"/><circle cx="398.25" cy="461.27" r="1.1"/><circle cx="400.00" cy="461.43" r="1.1"/><circle cx="400.50" cy="462.75" r="1.1"/><circle cx="399.00" cy="462.81" r="1.1"/><circle cx="402.00" cy="463.21" r="1.1"/><circle cx="397.75" cy="463.53" r="1.1"/><circle cx="403.50" cy="463.70" r="1.1"/><circle cx="396.25" cy="463.72" r="1.1"/><circle cx="399.75" cy="463.96" r="1.1"/><circle cx="405.00" cy="464.13" r="1.1"/><circle cx="400.75" cy="464.87" r="1.1"/><circle cx="398.75" cy="464.94" r="1.1"/><circle cx="400.00" cy="467.30" r="1.1"/><circle cx="400.00" cy="469.00" r="1.1"/><circle cx="401.50" cy="469.29" r="1.1"/><circle cx="400.00" cy="471.40" r="1.1"/><circle cx="401.50" cy="471.49" r="1.1"/><circle cx="399.00" cy="472.43" r="1.1"/><circle cx="400.00" cy="474.12" r="1.1"/><circle cx="401.50" cy="474.26" r="1.1"/><circle cx="398.50" cy="474.41" r="1.1"/><circle cx="400.00" cy="476.76" r="1.1"/><circle cx="401.50" cy="477.06" r="1.1"/><circle cx="400.00" cy="481.33" r="1.1"/><circle cx="400.00" cy="483.13" r="1.1"/><circle cx="401.50" cy="483.52" r="1.1"/><circle cx="398.75" cy="483.74" r="1.1"/><circle cx="400.00" cy="488.08" r="1.1"/><circle cx="400.00" cy="491.67" r="1.1"/><circle cx="400.00" cy="494.67" r="1.1"/><circle cx="400.00" cy="502.17" r="1.1"/><circle cx="400.00" cy="503.60" r="1.1"/><circle cx="401.25" cy="504.21" r="1.1"/><circle cx="400.00" cy="518.50" r="1.1"/><circle cx="400.00" cy="529.00" r="1.1"/><circle cx="400.00" cy="536.50" r="1.1"/></g>
<path d="M296.4,378.4 L296.4,571.0 L438.4,571.0" fill="none" stroke="#555555" stroke-width="1"/>
<line x1="291.2" y1="394.2" x2="296.4" y2="394.2" stroke="#555555" stroke-width="1"/>
<text x="286.10" y="398.10" font-size="11" text-anchor="end" fill="#231f20" >120</text>
<line x1="291.2" y1="450.4" x2="296.4" y2="450.4" stroke="#555555" stroke-width="1"/>
<text x="286.10" y="454.30" font-size="11" text-anchor="end" fill="#231f20" >100</text>
<line x1="291.2" y1="506.5" x2="296.4" y2="506.5" stroke="#555555" stroke-width="1"/>
<text x="286.10" y="510.40" font-size="11" text-anchor="end" fill="#231f20" >80</text>
<line x1="291.2" y1="562.6" x2="296.4" y2="562.6" stroke="#555555" stroke-width="1"/>
<text x="286.10" y="566.50" font-size="11" text-anchor="end" fill="#231f20" >60</text>
<line x1="335.6" y1="571.0" x2="335.6" y2="576.0" stroke="#555555" stroke-width="1"/>
<line x1="400.1" y1="571.0" x2="400.1" y2="576.0" stroke="#555555" stroke-width="1"/>
<text x="335.60" y="592.20" font-size="10" text-anchor="middle" fill="#231f20" textLength="29.80" lengthAdjust="spacingAndGlyphs" >Sym F</text>
<text x="400.10" y="592.20" font-size="10" text-anchor="middle" fill="#231f20" textLength="29.80" lengthAdjust="spacingAndGlyphs" >Sym F</text>
<text x="335.80" y="603.80" font-size="10" text-anchor="middle" fill="#231f20" textLength="26.00" lengthAdjust="spacingAndGlyphs" ><tspan>Δ</tspan><tspan font-style="italic">intB</tspan></text>
<text x="400.30" y="603.80" font-size="10" text-anchor="middle" fill="#231f20" textLength="52.90" lengthAdjust="spacingAndGlyphs" ><tspan font-style="italic">intB::tnaAB</tspan></text>
<text x="367.85" y="627.00" font-size="12.3" text-anchor="middle" fill="#231f20" textLength="90.80" lengthAdjust="spacingAndGlyphs" >Bacterial strains</text>
<text x="336.50" y="563.70" font-size="12" text-anchor="middle" fill="#231f20" textLength="43.20" lengthAdjust="spacingAndGlyphs" ><tspan font-style="italic">n</tspan><tspan> = 300</tspan></text>
<text x="401.10" y="563.70" font-size="12" text-anchor="middle" fill="#231f20" textLength="40.20" lengthAdjust="spacingAndGlyphs" ><tspan font-style="italic">n</tspan><tspan> = 247</tspan></text>
<line x1="339.2" y1="383.9" x2="409.2" y2="383.9" stroke="#6d6d6d" stroke-width="1.1"/>
<text x="374.20" y="379.50" font-size="12.3" text-anchor="middle" fill="#231f20" textLength="82.40" lengthAdjust="spacingAndGlyphs" ><tspan font-style="italic">P</tspan><tspan> = 2.22 × 10</tspan><tspan dy="-5" font-size="8.5">−16</tspan></text>
<text x="255.50" y="474.70" font-size="12.2" text-anchor="middle" fill="#231f20" textLength="135.50" lengthAdjust="spacingAndGlyphs" transform="rotate(-90 255.50 474.70)" >Adult body colour (hue)</text>
<text x="489.50" y="369.30" font-size="18" text-anchor="start" fill="#000" font-weight="bold" stroke="#000" stroke-width="0.55">e</text>
<line x1="578.20" y1="434.40" x2="578.20" y2="461.00" stroke="#fba9a4" stroke-width="1"/>
<line x1="578.20" y1="479.50" x2="578.20" y2="507.10" stroke="#fba9a4" stroke-width="1"/>
<rect x="561.60" y="461.00" width="33.20" height="18.50" fill="none" stroke="#fba9a4" stroke-width="1"/>
<line x1="561.60" y1="470.20" x2="594.80" y2="470.20" stroke="#f8766d" stroke-width="1.6"/>
<line x1="644.20" y1="437.40" x2="644.20" y2="461.40" stroke="#7fdcdf" stroke-width="1"/>
<line x1="644.20" y1="487.50" x2="644.20" y2="521.50" stroke="#7fdcdf" stroke-width="1"/>
<rect x="627.60" y="461.40" width="33.20" height="26.10" fill="none" stroke="#7fdcdf" stroke-width="1"/>
<line x1="627.60" y1="472.10" x2="660.80" y2="472.10" stroke="#00bfc4" stroke-width="1.6"/>
<g fill="#f8766d" fill-opacity="0.42"><circle cx="578.40" cy="402.90" r="1.1"/><circle cx="578.40" cy="409.90" r="1.1"/><circle cx="578.40" cy="426.90" r="1.1"/><circle cx="578.40" cy="431.40" r="1.1"/><circle cx="578.40" cy="435.71" r="1.1"/><circle cx="578.40" cy="438.66" r="1.1"/><circle cx="579.65" cy="439.39" r="1.1"/><circle cx="578.40" cy="441.60" r="1.1"/><circle cx="579.65" cy="442.34" r="1.1"/><circle cx="577.15" cy="442.34" r="1.1"/><circle cx="578.40" cy="444.54" r="1.1"/><circle cx="579.65" cy="445.28" r="1.1"/><circle cx="578.40" cy="446.02" r="1.1"/><circle cx="579.65" cy="446.75" r="1.1"/><circle cx="578.40" cy="448.22" r="1.1"/><circle cx="579.65" cy="448.96" r="1.1"/><circle cx="578.40" cy="451.17" r="1.1"/><circle cx="579.65" cy="451.90" r="1.1"/><circle cx="577.15" cy="451.90" r="1.1"/><circle cx="578.40" cy="454.11" r="1.1"/><circle cx="579.65" cy="454.85" r="1.1"/><circle cx="577.15" cy="454.85" r="1.1"/><circle cx="578.40" cy="455.58" r="1.1"/><circle cx="579.65" cy="456.32" r="1.1"/><circle cx="578.40" cy="457.06" r="1.1"/><circle cx="576.90" cy="457.06" r="1.1"/><circle cx="580.90" cy="457.06" r="1.1"/><circle cx="575.40" cy="457.06" r="1.1"/><circle cx="579.65" cy="457.79" r="1.1"/><circle cx="582.15" cy="457.79" r="1.1"/><circle cx="574.15" cy="457.79" r="1.1"/><circle cx="578.40" cy="458.53" r="1.1"/><circle cx="576.90" cy="458.53" r="1.1"/><circle cx="580.90" cy="458.53" r="1.1"/><circle cx="579.65" cy="459.26" r="1.1"/><circle cx="575.65" cy="459.26" r="1.1"/><circle cx="578.40" cy="460.00" r="1.1"/><circle cx="576.90" cy="460.00" r="1.1"/><circle cx="580.90" cy="460.00" r="1.1"/><circle cx="579.65" cy="460.74" r="1.1"/><circle cx="575.65" cy="460.74" r="1.1"/><circle cx="582.15" cy="460.74" r="1.1"/><circle cx="578.40" cy="462.94" r="1.1"/><circle cx="579.90" cy="462.94" r="1.1"/><circle cx="577.15" cy="463.68" r="1.1"/><circle cx="581.15" cy="463.68" r="1.1"/><circle cx="578.40" cy="464.42" r="1.1"/><circle cx="579.65" cy="465.15" r="1.1"/><circle cx="578.40" cy="465.89" r="1.1"/><circle cx="576.90" cy="465.89" r="1.1"/><circle cx="580.90" cy="465.89" r="1.1"/><circle cx="579.65" cy="466.62" r="1.1"/><circle cx="578.40" cy="467.36" r="1.1"/><circle cx="576.90" cy="467.36" r="1.1"/><circle cx="580.90" cy="467.36" r="1.1"/><circle cx="575.40" cy="467.36" r="1.1"/><circle cx="579.65" cy="468.10" r="1.1"/><circle cx="582.15" cy="468.10" r="1.1"/><circle cx="578.40" cy="468.83" r="1.1"/><circle cx="576.90" cy="468.83" r="1.1"/><circle cx="578.40" cy="470.30" r="1.1"/><circle cx="579.90" cy="470.30" r="1.1"/><circle cx="577.15" cy="471.04" r="1.1"/><circle cx="578.40" cy="471.78" r="1.1"/><circle cx="579.90" cy="471.78" r="1.1"/><circle cx="575.90" cy="471.78" r="1.1"/><circle cx="581.40" cy="471.78" r="1.1"/><circle cx="577.15" cy="472.51" r="1.1"/><circle cx="578.40" cy="473.25" r="1.1"/><circle cx="579.65" cy="473.98" r="1.1"/><circle cx="577.15" cy="473.98" r="1.1"/><circle cx="578.40" cy="474.72" r="1.1"/><circle cx="580.90" cy="474.72" r="1.1"/><circle cx="575.90" cy="474.72" r="1.1"/><circle cx="579.65" cy="475.46" r="1.1"/><circle cx="577.15" cy="475.46" r="1.1"/><circle cx="582.15" cy="475.46" r="1.1"/><circle cx="574.65" cy="475.46" r="1.1"/><circle cx="578.40" cy="476.19" r="1.1"/><circle cx="580.90" cy="476.19" r="1.1"/><circle cx="579.65" cy="476.93" r="1.1"/><circle cx="577.15" cy="476.93" r="1.1"/><circle cx="575.65" cy="476.93" r="1.1"/><circle cx="578.40" cy="477.66" r="1.1"/><circle cx="580.90" cy="477.66" r="1.1"/><circle cx="579.65" cy="478.40" r="1.1"/><circle cx="577.15" cy="478.40" r="1.1"/><circle cx="578.40" cy="479.14" r="1.1"/><circle cx="580.90" cy="479.14" r="1.1"/><circle cx="575.90" cy="479.14" r="1.1"/><circle cx="579.65" cy="479.87" r="1.1"/><circle cx="578.40" cy="480.61" r="1.1"/><circle cx="576.90" cy="480.61" r="1.1"/><circle cx="580.90" cy="480.61" r="1.1"/><circle cx="579.65" cy="481.34" r="1.1"/><circle cx="575.65" cy="481.34" r="1.1"/><circle cx="578.40" cy="482.08" r="1.1"/><circle cx="576.90" cy="482.08" r="1.1"/><circle cx="580.90" cy="482.08" r="1.1"/><circle cx="582.40" cy="482.08" r="1.1"/><circle cx="574.40" cy="482.08" r="1.1"/><circle cx="583.90" cy="482.08" r="1.1"/><circle cx="579.65" cy="482.82" r="1.1"/><circle cx="575.65" cy="482.82" r="1.1"/><circle cx="578.40" cy="484.29" r="1.1"/><circle cx="579.90" cy="484.29" r="1.1"/><circle cx="577.15" cy="485.02" r="1.1"/><circle cx="578.40" cy="485.76" r="1.1"/><circle cx="579.90" cy="485.76" r="1.1"/><circle cx="575.90" cy="485.76" r="1.1"/><circle cx="578.40" cy="487.23" r="1.1"/><circle cx="579.90" cy="487.23" r="1.1"/><circle cx="576.90" cy="487.23" r="1.1"/><circle cx="581.15" cy="487.97" r="1.1"/><circle cx="578.40" cy="488.70" r="1.1"/><circle cx="579.65" cy="489.44" r="1.1"/><circle cx="578.40" cy="490.91" r="1.1"/><circle cx="579.65" cy="491.65" r="1.1"/><circle cx="577.15" cy="491.65" r="1.1"/><circle cx="578.40" cy="492.38" r="1.1"/><circle cx="578.40" cy="496.06" r="1.1"/><circle cx="579.65" cy="496.80" r="1.1"/><circle cx="578.40" cy="499.74" r="1.1"/><circle cx="579.90" cy="499.74" r="1.1"/><circle cx="578.40" cy="501.22" r="1.1"/><circle cx="578.40" cy="503.42" r="1.1"/><circle cx="579.65" cy="504.16" r="1.1"/><circle cx="578.40" cy="504.90" r="1.1"/><circle cx="576.90" cy="504.90" r="1.1"/><circle cx="578.40" cy="507.10" r="1.1"/><circle cx="578.40" cy="512.70" r="1.1"/><circle cx="578.40" cy="525.00" r="1.1"/><circle cx="578.40" cy="540.00" r="1.1"/></g>
<g fill="#00bfc4" fill-opacity="0.5"><circle cx="644.30" cy="419.50" r="1.1"/><circle cx="644.30" cy="437.18" r="1.1"/><circle cx="644.30" cy="442.34" r="1.1"/><circle cx="645.55" cy="443.07" r="1.1"/><circle cx="644.30" cy="444.54" r="1.1"/><circle cx="645.55" cy="445.28" r="1.1"/><circle cx="644.30" cy="446.02" r="1.1"/><circle cx="642.80" cy="446.02" r="1.1"/><circle cx="644.30" cy="448.96" r="1.1"/><circle cx="645.80" cy="448.96" r="1.1"/><circle cx="643.05" cy="449.70" r="1.1"/><circle cx="647.05" cy="449.70" r="1.1"/><circle cx="644.30" cy="451.17" r="1.1"/><circle cx="644.30" cy="453.38" r="1.1"/><circle cx="644.30" cy="455.58" r="1.1"/><circle cx="644.30" cy="457.06" r="1.1"/><circle cx="645.55" cy="457.79" r="1.1"/><circle cx="644.30" cy="458.53" r="1.1"/><circle cx="642.80" cy="458.53" r="1.1"/><circle cx="646.80" cy="458.53" r="1.1"/><circle cx="645.55" cy="459.26" r="1.1"/><circle cx="644.30" cy="460.00" r="1.1"/><circle cx="645.55" cy="460.74" r="1.1"/><circle cx="643.05" cy="460.74" r="1.1"/><circle cx="644.30" cy="461.47" r="1.1"/><circle cx="646.80" cy="461.47" r="1.1"/><circle cx="644.30" cy="462.94" r="1.1"/><circle cx="645.80" cy="462.94" r="1.1"/><circle cx="642.80" cy="462.94" r="1.1"/><circle cx="644.30" cy="464.42" r="1.1"/><circle cx="645.80" cy="464.42" r="1.1"/><circle cx="642.80" cy="464.42" r="1.1"/><circle cx="647.30" cy="464.42" r="1.1"/><circle cx="641.55" cy="465.15" r="1.1"/><circle cx="644.30" cy="465.89" r="1.1"/><circle cx="645.55" cy="466.62" r="1.1"/><circle cx="644.30" cy="467.36" r="1.1"/><circle cx="642.80" cy="467.36" r="1.1"/><circle cx="644.30" cy="469.57" r="1.1"/><circle cx="645.55" cy="470.30" r="1.1"/><circle cx="644.30" cy="471.04" r="1.1"/><circle cx="642.80" cy="471.04" r="1.1"/><circle cx="646.80" cy="471.04" r="1.1"/><circle cx="641.30" cy="471.04" r="1.1"/><circle cx="645.55" cy="471.78" r="1.1"/><circle cx="648.05" cy="471.78" r="1.1"/><circle cx="644.30" cy="472.51" r="1.1"/><circle cx="642.80" cy="472.51" r="1.1"/><circle cx="644.30" cy="473.98" r="1.1"/><circle cx="645.55" cy="474.72" r="1.1"/><circle cx="644.30" cy="475.46" r="1.1"/><circle cx="642.80" cy="475.46" r="1.1"/><circle cx="646.80" cy="475.46" r="1.1"/><circle cx="645.55" cy="476.19" r="1.1"/><circle cx="641.55" cy="476.19" r="1.1"/><circle cx="644.30" cy="476.93" r="1.1"/><circle cx="644.30" cy="479.14" r="1.1"/><circle cx="645.80" cy="479.14" r="1.1"/><circle cx="643.05" cy="479.87" r="1.1"/><circle cx="647.05" cy="479.87" r="1.1"/><circle cx="644.30" cy="480.61" r="1.1"/><circle cx="645.80" cy="480.61" r="1.1"/><circle cx="641.80" cy="480.61" r="1.1"/><circle cx="643.05" cy="481.34" r="1.1"/><circle cx="644.30" cy="482.08" r="1.1"/><circle cx="645.80" cy="482.08" r="1.1"/><circle cx="641.80" cy="482.08" r="1.1"/><circle cx="647.30" cy="482.08" r="1.1"/><circle cx="643.05" cy="482.82" r="1.1"/><circle cx="644.30" cy="484.29" r="1.1"/><circle cx="645.80" cy="484.29" r="1.1"/><circle cx="642.80" cy="484.29" r="1.1"/><circle cx="647.05" cy="485.02" r="1.1"/><circle cx="641.55" cy="485.02" r="1.1"/><circle cx="644.30" cy="485.76" r="1.1"/><circle cx="645.55" cy="486.50" r="1.1"/><circle cx="643.05" cy="486.50" r="1.1"/><circle cx="644.30" cy="487.23" r="1.1"/><circle cx="644.30" cy="489.44" r="1.1"/><circle cx="645.55" cy="490.18" r="1.1"/><circle cx="644.30" cy="491.65" r="1.1"/><circle cx="645.80" cy="491.65" r="1.1"/><circle cx="642.80" cy="491.65" r="1.1"/><circle cx="644.30" cy="493.12" r="1.1"/><circle cx="644.30" cy="494.59" r="1.1"/><circle cx="644.30" cy="496.80" r="1.1"/><circle cx="645.80" cy="496.80" r="1.1"/><circle cx="643.05" cy="497.54" r="1.1"/><circle cx="647.05" cy="497.54" r="1.1"/><circle cx="644.30" cy="498.27" r="1.1"/><circle cx="644.30" cy="499.74" r="1.1"/><circle cx="644.30" cy="505.63" r="1.1"/><circle cx="645.80" cy="505.63" r="1.1"/><circle cx="643.05" cy="506.37" r="1.1"/><circle cx="644.30" cy="508.58" r="1.1"/><circle cx="645.55" cy="509.31" r="1.1"/><circle cx="644.30" cy="510.78" r="1.1"/><circle cx="645.55" cy="511.52" r="1.1"/><circle cx="643.05" cy="511.52" r="1.1"/><circle cx="644.30" cy="512.26" r="1.1"/><circle cx="644.30" cy="517.41" r="1.1"/><circle cx="644.30" cy="520.35" r="1.1"/><circle cx="644.30" cy="537.30" r="1.1"/><circle cx="644.30" cy="541.80" r="1.1"/></g>
<path d="M539.0,376.3 L539.0,571.0 L683.5,571.0" fill="none" stroke="#555555" stroke-width="1"/>
<line x1="533.8" y1="393.0" x2="539.0" y2="393.0" stroke="#555555" stroke-width="1"/>
<text x="528.70" y="396.90" font-size="11" text-anchor="end" fill="#231f20" >8.0</text>
<line x1="533.8" y1="429.9" x2="539.0" y2="429.9" stroke="#555555" stroke-width="1"/>
<text x="528.70" y="433.80" font-size="11" text-anchor="end" fill="#231f20" >7.5</text>
<line x1="533.8" y1="466.8" x2="539.0" y2="466.8" stroke="#555555" stroke-width="1"/>
<text x="528.70" y="470.70" font-size="11" text-anchor="end" fill="#231f20" >7.0</text>
<line x1="533.8" y1="503.6" x2="539.0" y2="503.6" stroke="#555555" stroke-width="1"/>
<text x="528.70" y="507.50" font-size="11" text-anchor="end" fill="#231f20" >6.5</text>
<line x1="533.8" y1="540.4" x2="539.0" y2="540.4" stroke="#555555" stroke-width="1"/>
<text x="528.70" y="544.30" font-size="11" text-anchor="end" fill="#231f20" >6.0</text>
<line x1="578.3" y1="571.0" x2="578.3" y2="576.0" stroke="#555555" stroke-width="1"/>
<line x1="644.1" y1="571.0" x2="644.1" y2="576.0" stroke="#555555" stroke-width="1"/>
<text x="578.30" y="592.20" font-size="10" text-anchor="middle" fill="#231f20" textLength="29.80" lengthAdjust="spacingAndGlyphs" >Sym F</text>
<text x="644.10" y="592.20" font-size="10" text-anchor="middle" fill="#231f20" textLength="29.80" lengthAdjust="spacingAndGlyphs" >Sym F</text>
<text x="578.50" y="603.80" font-size="10" text-anchor="middle" fill="#231f20" textLength="26.00" lengthAdjust="spacingAndGlyphs" ><tspan>Δ</tspan><tspan font-style="italic">intB</tspan></text>
<text x="644.30" y="603.80" font-size="10" text-anchor="middle" fill="#231f20" textLength="52.90" lengthAdjust="spacingAndGlyphs" ><tspan font-style="italic">intB::tnaAB</tspan></text>
<text x="611.20" y="627.00" font-size="12.3" text-anchor="middle" fill="#231f20" textLength="90.80" lengthAdjust="spacingAndGlyphs" >Bacterial strains</text>
<text x="576.00" y="564.30" font-size="12" text-anchor="middle" fill="#231f20" textLength="38.70" lengthAdjust="spacingAndGlyphs" ><tspan font-style="italic">n</tspan><tspan> = 133</tspan></text>
<text x="641.70" y="564.30" font-size="12" text-anchor="middle" fill="#231f20" textLength="39.60" lengthAdjust="spacingAndGlyphs" ><tspan font-style="italic">n</tspan><tspan> = 104</tspan></text>
<line x1="573.2" y1="383.7" x2="643.7" y2="383.7" stroke="#6d6d6d" stroke-width="1.1"/>
<text x="609.60" y="379.60" font-size="12.3" text-anchor="middle" fill="#231f20" textLength="45.30" lengthAdjust="spacingAndGlyphs" ><tspan font-style="italic">P</tspan><tspan> = 0.37</tspan></text>
<text x="500.80" y="474.30" font-size="12.2" text-anchor="middle" fill="#231f20" textLength="131.00" lengthAdjust="spacingAndGlyphs" transform="rotate(-90 500.80 474.30)" >Female body size (mm)</text>
<text x="0.80" y="663.20" font-size="18" text-anchor="start" fill="#000" font-weight="bold" stroke="#000" stroke-width="0.55">f</text>
<line x1="90.40" y1="728.00" x2="90.40" y2="752.30" stroke="#fba9a4" stroke-width="1"/>
<line x1="90.40" y1="770.30" x2="90.40" y2="796.30" stroke="#fba9a4" stroke-width="1"/>
<rect x="73.20" y="752.30" width="34.40" height="18.00" fill="none" stroke="#fba9a4" stroke-width="1"/>
<line x1="73.20" y1="759.30" x2="107.60" y2="759.30" stroke="#f8766d" stroke-width="1.6"/>
<line x1="159.20" y1="734.60" x2="159.20" y2="757.40" stroke="#7fdcdf" stroke-width="1"/>
<line x1="159.20" y1="773.90" x2="159.20" y2="796.70" stroke="#7fdcdf" stroke-width="1"/>
<rect x="142.00" y="757.40" width="34.40" height="16.50" fill="none" stroke="#7fdcdf" stroke-width="1"/>
<line x1="142.00" y1="764.10" x2="176.40" y2="764.10" stroke="#00bfc4" stroke-width="1.6"/>
<g fill="#f8766d" fill-opacity="0.42"><circle cx="90.40" cy="709.00" r="1.1"/><circle cx="90.40" cy="729.71" r="1.1"/><circle cx="91.65" cy="730.22" r="1.1"/><circle cx="89.40" cy="730.73" r="1.1"/><circle cx="90.40" cy="732.77" r="1.1"/><circle cx="91.90" cy="732.77" r="1.1"/><circle cx="89.15" cy="733.28" r="1.1"/><circle cx="90.40" cy="734.31" r="1.1"/><circle cx="90.40" cy="736.86" r="1.1"/><circle cx="91.65" cy="737.37" r="1.1"/><circle cx="90.40" cy="739.42" r="1.1"/><circle cx="90.40" cy="740.95" r="1.1"/><circle cx="91.40" cy="741.97" r="1.1"/><circle cx="90.40" cy="742.99" r="1.1"/><circle cx="91.40" cy="744.02" r="1.1"/><circle cx="89.40" cy="744.02" r="1.1"/><circle cx="92.65" cy="744.53" r="1.1"/><circle cx="90.40" cy="745.04" r="1.1"/><circle cx="91.65" cy="745.55" r="1.1"/><circle cx="89.40" cy="746.06" r="1.1"/><circle cx="92.90" cy="746.06" r="1.1"/><circle cx="90.40" cy="747.59" r="1.1"/><circle cx="91.90" cy="747.59" r="1.1"/><circle cx="88.90" cy="747.59" r="1.1"/><circle cx="93.15" cy="748.10" r="1.1"/><circle cx="87.65" cy="748.10" r="1.1"/><circle cx="94.65" cy="748.10" r="1.1"/><circle cx="90.40" cy="749.64" r="1.1"/><circle cx="91.90" cy="749.64" r="1.1"/><circle cx="88.90" cy="749.64" r="1.1"/><circle cx="93.15" cy="750.15" r="1.1"/><circle cx="87.65" cy="750.15" r="1.1"/><circle cx="94.40" cy="750.66" r="1.1"/><circle cx="86.40" cy="750.66" r="1.1"/><circle cx="95.90" cy="750.66" r="1.1"/><circle cx="90.40" cy="751.17" r="1.1"/><circle cx="91.90" cy="751.17" r="1.1"/><circle cx="88.90" cy="751.17" r="1.1"/><circle cx="85.15" cy="751.17" r="1.1"/><circle cx="92.90" cy="752.19" r="1.1"/><circle cx="87.90" cy="752.19" r="1.1"/><circle cx="94.40" cy="752.19" r="1.1"/><circle cx="90.40" cy="752.70" r="1.1"/><circle cx="86.65" cy="752.70" r="1.1"/><circle cx="91.65" cy="753.21" r="1.1"/><circle cx="89.15" cy="753.21" r="1.1"/><circle cx="95.40" cy="753.21" r="1.1"/><circle cx="92.90" cy="753.73" r="1.1"/><circle cx="87.90" cy="753.73" r="1.1"/><circle cx="90.40" cy="754.24" r="1.1"/><circle cx="91.65" cy="754.75" r="1.1"/><circle cx="89.15" cy="754.75" r="1.1"/><circle cx="93.90" cy="754.75" r="1.1"/><circle cx="87.90" cy="755.26" r="1.1"/><circle cx="86.40" cy="755.26" r="1.1"/><circle cx="90.40" cy="756.28" r="1.1"/><circle cx="91.90" cy="756.28" r="1.1"/><circle cx="89.15" cy="756.79" r="1.1"/><circle cx="93.15" cy="756.79" r="1.1"/><circle cx="87.65" cy="756.79" r="1.1"/><circle cx="94.40" cy="757.30" r="1.1"/><circle cx="86.40" cy="757.30" r="1.1"/><circle cx="95.90" cy="757.30" r="1.1"/><circle cx="90.40" cy="757.81" r="1.1"/><circle cx="91.90" cy="757.81" r="1.1"/><circle cx="89.40" cy="758.84" r="1.1"/><circle cx="92.90" cy="758.84" r="1.1"/><circle cx="87.90" cy="758.84" r="1.1"/><circle cx="90.65" cy="759.35" r="1.1"/><circle cx="94.15" cy="759.35" r="1.1"/><circle cx="86.65" cy="759.35" r="1.1"/><circle cx="91.90" cy="759.86" r="1.1"/><circle cx="95.40" cy="759.86" r="1.1"/><circle cx="85.40" cy="759.86" r="1.1"/><circle cx="96.90" cy="759.86" r="1.1"/><circle cx="89.65" cy="760.37" r="1.1"/><circle cx="88.15" cy="760.37" r="1.1"/><circle cx="90.90" cy="760.88" r="1.1"/><circle cx="89.90" cy="761.90" r="1.1"/><circle cx="91.90" cy="761.90" r="1.1"/><circle cx="88.65" cy="762.41" r="1.1"/><circle cx="93.15" cy="762.41" r="1.1"/><circle cx="87.15" cy="762.41" r="1.1"/><circle cx="90.90" cy="762.92" r="1.1"/><circle cx="94.40" cy="762.92" r="1.1"/><circle cx="85.90" cy="762.92" r="1.1"/><circle cx="89.65" cy="763.43" r="1.1"/><circle cx="92.15" cy="763.43" r="1.1"/><circle cx="88.40" cy="763.95" r="1.1"/><circle cx="93.40" cy="763.95" r="1.1"/><circle cx="86.90" cy="763.95" r="1.1"/><circle cx="90.40" cy="764.97" r="1.1"/><circle cx="91.90" cy="764.97" r="1.1"/><circle cx="89.15" cy="765.48" r="1.1"/><circle cx="92.90" cy="765.99" r="1.1"/><circle cx="90.40" cy="766.50" r="1.1"/><circle cx="88.15" cy="766.50" r="1.1"/><circle cx="91.40" cy="767.52" r="1.1"/><circle cx="89.40" cy="767.52" r="1.1"/><circle cx="92.90" cy="767.52" r="1.1"/><circle cx="87.15" cy="767.52" r="1.1"/><circle cx="94.40" cy="767.52" r="1.1"/><circle cx="85.65" cy="767.52" r="1.1"/><circle cx="95.65" cy="768.03" r="1.1"/><circle cx="84.40" cy="768.03" r="1.1"/><circle cx="90.40" cy="768.54" r="1.1"/><circle cx="91.65" cy="769.06" r="1.1"/><circle cx="89.15" cy="769.06" r="1.1"/><circle cx="93.15" cy="769.06" r="1.1"/><circle cx="87.90" cy="769.57" r="1.1"/><circle cx="94.40" cy="769.57" r="1.1"/><circle cx="86.40" cy="769.57" r="1.1"/><circle cx="90.40" cy="770.08" r="1.1"/><circle cx="91.40" cy="771.10" r="1.1"/><circle cx="89.40" cy="771.10" r="1.1"/><circle cx="92.90" cy="771.10" r="1.1"/><circle cx="87.90" cy="771.10" r="1.1"/><circle cx="94.15" cy="771.61" r="1.1"/><circle cx="90.40" cy="772.12" r="1.1"/><circle cx="91.65" cy="772.63" r="1.1"/><circle cx="89.40" cy="773.14" r="1.1"/><circle cx="92.90" cy="773.14" r="1.1"/><circle cx="87.90" cy="773.14" r="1.1"/><circle cx="90.65" cy="773.65" r="1.1"/><circle cx="94.15" cy="773.65" r="1.1"/><circle cx="86.65" cy="773.65" r="1.1"/><circle cx="90.40" cy="775.70" r="1.1"/><circle cx="91.90" cy="775.70" r="1.1"/><circle cx="89.40" cy="776.72" r="1.1"/><circle cx="92.90" cy="776.72" r="1.1"/><circle cx="90.65" cy="777.23" r="1.1"/><circle cx="91.90" cy="777.74" r="1.1"/><circle cx="90.40" cy="778.76" r="1.1"/><circle cx="91.65" cy="779.27" r="1.1"/><circle cx="89.40" cy="779.79" r="1.1"/><circle cx="92.90" cy="779.79" r="1.1"/><circle cx="87.90" cy="779.79" r="1.1"/><circle cx="94.40" cy="779.79" r="1.1"/><circle cx="90.65" cy="780.30" r="1.1"/><circle cx="89.65" cy="781.32" r="1.1"/><circle cx="90.65" cy="782.34" r="1.1"/><circle cx="92.15" cy="782.34" r="1.1"/><circle cx="90.40" cy="784.90" r="1.1"/><circle cx="91.65" cy="785.41" r="1.1"/><circle cx="89.40" cy="785.92" r="1.1"/><circle cx="92.90" cy="785.92" r="1.1"/><circle cx="87.90" cy="785.92" r="1.1"/><circle cx="90.65" cy="786.43" r="1.1"/><circle cx="94.15" cy="786.43" r="1.1"/><circle cx="89.65" cy="787.45" r="1.1"/><circle cx="90.65" cy="788.47" r="1.1"/><circle cx="92.15" cy="788.47" r="1.1"/><circle cx="89.40" cy="788.98" r="1.1"/><circle cx="88.15" cy="789.50" r="1.1"/><circle cx="90.40" cy="790.52" r="1.1"/><circle cx="91.65" cy="791.03" r="1.1"/><circle cx="90.40" cy="792.05" r="1.1"/><circle cx="91.65" cy="792.56" r="1.1"/><circle cx="89.40" cy="793.07" r="1.1"/><circle cx="90.65" cy="793.58" r="1.1"/><circle cx="90.40" cy="801.60" r="1.1"/></g>
<g fill="#00bfc4" fill-opacity="0.5"><circle cx="159.10" cy="722.80" r="1.1"/><circle cx="159.10" cy="735.33" r="1.1"/><circle cx="160.60" cy="735.33" r="1.1"/><circle cx="159.10" cy="736.86" r="1.1"/><circle cx="160.10" cy="737.88" r="1.1"/><circle cx="158.10" cy="737.88" r="1.1"/><circle cx="159.10" cy="738.91" r="1.1"/><circle cx="160.35" cy="739.42" r="1.1"/><circle cx="159.10" cy="740.44" r="1.1"/><circle cx="159.10" cy="742.48" r="1.1"/><circle cx="160.60" cy="742.48" r="1.1"/><circle cx="159.10" cy="744.53" r="1.1"/><circle cx="159.10" cy="747.08" r="1.1"/><circle cx="160.35" cy="747.59" r="1.1"/><circle cx="157.85" cy="747.59" r="1.1"/><circle cx="161.85" cy="747.59" r="1.1"/><circle cx="156.60" cy="748.10" r="1.1"/><circle cx="159.10" cy="749.13" r="1.1"/><circle cx="160.35" cy="749.64" r="1.1"/><circle cx="159.10" cy="750.66" r="1.1"/><circle cx="157.60" cy="750.66" r="1.1"/><circle cx="160.35" cy="751.17" r="1.1"/><circle cx="161.85" cy="751.17" r="1.1"/><circle cx="156.60" cy="751.68" r="1.1"/><circle cx="163.10" cy="751.68" r="1.1"/><circle cx="155.10" cy="751.68" r="1.1"/><circle cx="159.10" cy="752.19" r="1.1"/><circle cx="160.35" cy="752.70" r="1.1"/><circle cx="157.85" cy="752.70" r="1.1"/><circle cx="161.85" cy="752.70" r="1.1"/><circle cx="164.10" cy="752.70" r="1.1"/><circle cx="156.60" cy="753.21" r="1.1"/><circle cx="159.10" cy="753.73" r="1.1"/><circle cx="160.35" cy="754.24" r="1.1"/><circle cx="159.10" cy="755.26" r="1.1"/><circle cx="157.60" cy="755.26" r="1.1"/><circle cx="160.35" cy="755.77" r="1.1"/><circle cx="161.60" cy="756.28" r="1.1"/><circle cx="159.10" cy="756.79" r="1.1"/><circle cx="157.60" cy="756.79" r="1.1"/><circle cx="160.35" cy="757.30" r="1.1"/><circle cx="161.60" cy="757.81" r="1.1"/><circle cx="156.60" cy="757.81" r="1.1"/><circle cx="159.10" cy="758.32" r="1.1"/><circle cx="162.85" cy="758.32" r="1.1"/><circle cx="160.35" cy="758.84" r="1.1"/><circle cx="157.85" cy="758.84" r="1.1"/><circle cx="161.60" cy="759.35" r="1.1"/><circle cx="156.60" cy="759.35" r="1.1"/><circle cx="155.10" cy="759.35" r="1.1"/><circle cx="159.10" cy="759.86" r="1.1"/><circle cx="162.85" cy="759.86" r="1.1"/><circle cx="160.35" cy="760.37" r="1.1"/><circle cx="159.10" cy="761.39" r="1.1"/><circle cx="157.60" cy="761.39" r="1.1"/><circle cx="161.35" cy="761.39" r="1.1"/><circle cx="156.10" cy="761.39" r="1.1"/><circle cx="162.60" cy="761.90" r="1.1"/><circle cx="160.10" cy="762.41" r="1.1"/><circle cx="155.10" cy="762.41" r="1.1"/><circle cx="163.85" cy="762.41" r="1.1"/><circle cx="158.85" cy="762.92" r="1.1"/><circle cx="157.35" cy="762.92" r="1.1"/><circle cx="161.35" cy="762.92" r="1.1"/><circle cx="156.10" cy="763.43" r="1.1"/><circle cx="162.60" cy="763.43" r="1.1"/><circle cx="154.10" cy="763.43" r="1.1"/><circle cx="164.85" cy="763.43" r="1.1"/><circle cx="159.85" cy="763.95" r="1.1"/><circle cx="152.85" cy="763.95" r="1.1"/><circle cx="166.10" cy="763.95" r="1.1"/><circle cx="158.60" cy="764.46" r="1.1"/><circle cx="161.10" cy="764.46" r="1.1"/><circle cx="157.10" cy="764.46" r="1.1"/><circle cx="162.35" cy="764.97" r="1.1"/><circle cx="159.60" cy="765.48" r="1.1"/><circle cx="156.10" cy="765.48" r="1.1"/><circle cx="158.35" cy="765.99" r="1.1"/><circle cx="160.85" cy="765.99" r="1.1"/><circle cx="157.10" cy="766.50" r="1.1"/><circle cx="162.10" cy="766.50" r="1.1"/><circle cx="155.10" cy="766.50" r="1.1"/><circle cx="159.35" cy="767.01" r="1.1"/><circle cx="163.35" cy="767.01" r="1.1"/><circle cx="153.85" cy="767.01" r="1.1"/><circle cx="164.85" cy="767.01" r="1.1"/><circle cx="158.10" cy="767.52" r="1.1"/><circle cx="160.60" cy="767.52" r="1.1"/><circle cx="156.85" cy="768.03" r="1.1"/><circle cx="161.85" cy="768.03" r="1.1"/><circle cx="155.35" cy="768.03" r="1.1"/><circle cx="159.10" cy="768.54" r="1.1"/><circle cx="160.35" cy="769.06" r="1.1"/><circle cx="157.85" cy="769.06" r="1.1"/><circle cx="162.85" cy="769.06" r="1.1"/><circle cx="161.60" cy="769.57" r="1.1"/><circle cx="159.10" cy="770.59" r="1.1"/><circle cx="160.10" cy="771.61" r="1.1"/><circle cx="158.10" cy="771.61" r="1.1"/><circle cx="161.60" cy="771.61" r="1.1"/><circle cx="156.85" cy="772.12" r="1.1"/><circle cx="162.85" cy="772.12" r="1.1"/><circle cx="155.35" cy="772.12" r="1.1"/><circle cx="159.10" cy="772.63" r="1.1"/><circle cx="164.10" cy="772.63" r="1.1"/><circle cx="160.10" cy="773.65" r="1.1"/><circle cx="159.10" cy="774.68" r="1.1"/><circle cx="157.60" cy="774.68" r="1.1"/><circle cx="160.35" cy="775.19" r="1.1"/><circle cx="161.85" cy="775.19" r="1.1"/><circle cx="156.35" cy="775.19" r="1.1"/><circle cx="163.10" cy="775.70" r="1.1"/><circle cx="159.10" cy="776.72" r="1.1"/><circle cx="160.35" cy="777.23" r="1.1"/><circle cx="158.10" cy="777.74" r="1.1"/><circle cx="161.60" cy="777.74" r="1.1"/><circle cx="156.60" cy="777.74" r="1.1"/><circle cx="159.35" cy="778.25" r="1.1"/><circle cx="162.85" cy="778.25" r="1.1"/><circle cx="155.35" cy="778.25" r="1.1"/><circle cx="158.35" cy="779.27" r="1.1"/><circle cx="159.60" cy="779.79" r="1.1"/><circle cx="159.10" cy="781.32" r="1.1"/><circle cx="159.10" cy="785.92" r="1.1"/><circle cx="160.35" cy="786.43" r="1.1"/><circle cx="159.10" cy="787.45" r="1.1"/><circle cx="160.10" cy="788.47" r="1.1"/><circle cx="158.10" cy="788.47" r="1.1"/><circle cx="159.10" cy="789.50" r="1.1"/><circle cx="161.10" cy="789.50" r="1.1"/><circle cx="157.85" cy="790.01" r="1.1"/><circle cx="160.10" cy="790.52" r="1.1"/><circle cx="156.60" cy="790.52" r="1.1"/><circle cx="158.85" cy="791.03" r="1.1"/><circle cx="161.35" cy="791.03" r="1.1"/><circle cx="162.85" cy="791.03" r="1.1"/><circle cx="159.10" cy="792.56" r="1.1"/><circle cx="160.10" cy="793.58" r="1.1"/><circle cx="159.10" cy="806.30" r="1.1"/><circle cx="159.10" cy="846.00" r="1.1"/></g>
<path d="M49.9,677.8 L49.9,872.2 L200.1,872.2" fill="none" stroke="#555555" stroke-width="1"/>
<line x1="44.699999999999996" y1="694.1" x2="49.9" y2="694.1" stroke="#555555" stroke-width="1"/>
<text x="39.60" y="698.00" font-size="11" text-anchor="end" fill="#231f20" >8</text>
<line x1="44.699999999999996" y1="745.2" x2="49.9" y2="745.2" stroke="#555555" stroke-width="1"/>
<text x="39.60" y="749.10" font-size="11" text-anchor="end" fill="#231f20" >7</text>
<line x1="44.699999999999996" y1="796.3" x2="49.9" y2="796.3" stroke="#555555" stroke-width="1"/>
<text x="39.60" y="800.20" font-size="11" text-anchor="end" fill="#231f20" >6</text>
<line x1="44.699999999999996" y1="847.4" x2="49.9" y2="847.4" stroke="#555555" stroke-width="1"/>
<text x="39.60" y="851.30" font-size="11" text-anchor="end" fill="#231f20" >5</text>
<line x1="89.9" y1="872.2" x2="89.9" y2="877.2" stroke="#555555" stroke-width="1"/>
<line x1="159.4" y1="872.2" x2="159.4" y2="877.2" stroke="#555555" stroke-width="1"/>
<text x="89.90" y="890.90" font-size="10" text-anchor="middle" fill="#231f20" textLength="29.80" lengthAdjust="spacingAndGlyphs" >Sym F</text>
<text x="159.40" y="890.90" font-size="10" text-anchor="middle" fill="#231f20" textLength="29.80" lengthAdjust="spacingAndGlyphs" >Sym F</text>
<text x="90.10" y="902.20" font-size="10" text-anchor="middle" fill="#231f20" textLength="26.00" lengthAdjust="spacingAndGlyphs" ><tspan>Δ</tspan><tspan font-style="italic">intB</tspan></text>
<text x="159.60" y="902.20" font-size="10" text-anchor="middle" fill="#231f20" textLength="52.90" lengthAdjust="spacingAndGlyphs" ><tspan font-style="italic">intB::tnaAB</tspan></text>
<text x="124.65" y="921.90" font-size="12.3" text-anchor="middle" fill="#231f20" textLength="90.80" lengthAdjust="spacingAndGlyphs" >Bacterial strains</text>
<text x="87.40" y="865.10" font-size="12" text-anchor="middle" fill="#231f20" textLength="35.70" lengthAdjust="spacingAndGlyphs" ><tspan font-style="italic">n</tspan><tspan> = 161</tspan></text>
<text x="158.30" y="865.10" font-size="12" text-anchor="middle" fill="#231f20" textLength="39.70" lengthAdjust="spacingAndGlyphs" ><tspan font-style="italic">n</tspan><tspan> = 140</tspan></text>
<line x1="91.6" y1="686.3" x2="161.8" y2="686.3" stroke="#6d6d6d" stroke-width="1.1"/>
<text x="126.70" y="680.60" font-size="12.3" text-anchor="middle" fill="#231f20" textLength="68.80" lengthAdjust="spacingAndGlyphs" ><tspan font-style="italic">P</tspan><tspan> = 0.00027</tspan></text>
<text x="12.00" y="774.80" font-size="12.2" text-anchor="middle" fill="#231f20" textLength="118.10" lengthAdjust="spacingAndGlyphs" transform="rotate(-90 12.00 774.80)" >Male body size (mm)</text>
<text x="243.80" y="663.20" font-size="18" text-anchor="start" fill="#000" font-weight="bold" stroke="#000" stroke-width="0.55">g</text>
<line x1="336.00" y1="717.00" x2="336.00" y2="737.80" stroke="#fba9a4" stroke-width="1"/>
<line x1="336.00" y1="774.40" x2="336.00" y2="784.50" stroke="#fba9a4" stroke-width="1"/>
<rect x="319.20" y="737.80" width="33.60" height="36.60" fill="none" stroke="#fba9a4" stroke-width="1"/>
<line x1="319.20" y1="759.60" x2="352.80" y2="759.60" stroke="#f8766d" stroke-width="1.6"/>
<line x1="402.05" y1="768.50" x2="402.05" y2="791.30" stroke="#7fdcdf" stroke-width="1"/>
<line x1="402.05" y1="825.20" x2="402.05" y2="863.20" stroke="#7fdcdf" stroke-width="1"/>
<rect x="385.40" y="791.30" width="33.30" height="33.90" fill="none" stroke="#7fdcdf" stroke-width="1"/>
<line x1="385.40" y1="805.00" x2="418.70" y2="805.00" stroke="#00bfc4" stroke-width="1.6"/>
<g fill="#f0706a" stroke="#4a2a28" stroke-width="0.5"><circle cx="336.23" cy="717.00" r="2.2"/><circle cx="335.63" cy="723.40" r="2.2"/><circle cx="335.35" cy="734.10" r="2.2"/><circle cx="336.01" cy="739.30" r="2.2"/><circle cx="335.69" cy="754.40" r="2.2"/><circle cx="335.32" cy="757.20" r="2.2"/><circle cx="336.51" cy="760.00" r="2.2"/><circle cx="336.28" cy="762.70" r="2.2"/><circle cx="335.19" cy="771.80" r="2.2"/><circle cx="335.98" cy="779.30" r="2.2"/><circle cx="335.86" cy="784.50" r="2.2"/><circle cx="336.70" cy="861.40" r="2.2"/></g>
<g fill="#13b1b6" stroke="#0d3f40" stroke-width="0.5"><circle cx="402.55" cy="768.30" r="2.2"/><circle cx="401.49" cy="787.20" r="2.2"/><circle cx="403.15" cy="788.40" r="2.2"/><circle cx="401.08" cy="792.70" r="2.2"/><circle cx="401.80" cy="799.30" r="2.2"/><circle cx="402.62" cy="800.10" r="2.2"/><circle cx="401.16" cy="809.50" r="2.2"/><circle cx="401.97" cy="822.30" r="2.2"/><circle cx="400.89" cy="823.80" r="2.2"/><circle cx="402.40" cy="825.40" r="2.2"/><circle cx="402.63" cy="827.10" r="2.2"/><circle cx="402.18" cy="863.50" r="2.2"/></g>
<path d="M296.4,681.0 L296.4,872.4 L441.8,872.4" fill="none" stroke="#555555" stroke-width="1"/>
<line x1="291.2" y1="735.2" x2="296.4" y2="735.2" stroke="#555555" stroke-width="1"/>
<text x="286.10" y="739.10" font-size="11" text-anchor="end" fill="#231f20" >20</text>
<line x1="291.2" y1="799.1" x2="296.4" y2="799.1" stroke="#555555" stroke-width="1"/>
<text x="286.10" y="803.00" font-size="11" text-anchor="end" fill="#231f20" >10</text>
<line x1="291.2" y1="863.0" x2="296.4" y2="863.0" stroke="#555555" stroke-width="1"/>
<text x="286.10" y="866.90" font-size="11" text-anchor="end" fill="#231f20" >0</text>
<line x1="335.8" y1="872.4" x2="335.8" y2="877.4" stroke="#555555" stroke-width="1"/>
<line x1="402.0" y1="872.4" x2="402.0" y2="877.4" stroke="#555555" stroke-width="1"/>
<text x="335.80" y="890.90" font-size="10" text-anchor="middle" fill="#231f20" textLength="29.80" lengthAdjust="spacingAndGlyphs" >Sym F</text>
<text x="402.00" y="890.90" font-size="10" text-anchor="middle" fill="#231f20" textLength="29.80" lengthAdjust="spacingAndGlyphs" >Sym F</text>
<text x="336.00" y="902.20" font-size="10" text-anchor="middle" fill="#231f20" textLength="26.00" lengthAdjust="spacingAndGlyphs" ><tspan>Δ</tspan><tspan font-style="italic">intB</tspan></text>
<text x="402.20" y="902.20" font-size="10" text-anchor="middle" fill="#231f20" textLength="52.90" lengthAdjust="spacingAndGlyphs" ><tspan font-style="italic">intB::tnaAB</tspan></text>
<text x="368.90" y="921.90" font-size="12.3" text-anchor="middle" fill="#231f20" textLength="90.80" lengthAdjust="spacingAndGlyphs" >Bacterial strains</text>
<text x="332.40" y="707.80" font-size="12" text-anchor="middle" fill="#231f20" textLength="30.80" lengthAdjust="spacingAndGlyphs" ><tspan font-style="italic">n</tspan><tspan> = 12</tspan></text>
<text x="399.10" y="707.80" font-size="12" text-anchor="middle" fill="#231f20" textLength="31.20" lengthAdjust="spacingAndGlyphs" ><tspan font-style="italic">n</tspan><tspan> = 12</tspan></text>
<line x1="335.8" y1="686.2" x2="405.8" y2="686.2" stroke="#6d6d6d" stroke-width="1.1"/>
<text x="373.70" y="680.30" font-size="12.3" text-anchor="middle" fill="#231f20" textLength="62.80" lengthAdjust="spacingAndGlyphs" ><tspan font-style="italic">P</tspan><tspan> = 0.0005</tspan></text>
<text x="255.00" y="776.40" font-size="12.2" text-anchor="middle" fill="#231f20" textLength="188.70" lengthAdjust="spacingAndGlyphs" transform="rotate(-90 255.00 776.40)" ><tspan>Trp level in haemolymph (ng µl</tspan><tspan dy="-4" font-size="8">−1</tspan><tspan dy="4">)</tspan></text>
<text x="489.80" y="663.20" font-size="18" text-anchor="start" fill="#000" font-weight="bold" stroke="#000" stroke-width="0.55">h</text>
<line x1="578.80" y1="845.40" x2="578.80" y2="849.80" stroke="#fba9a4" stroke-width="1"/>
<line x1="578.80" y1="858.40" x2="578.80" y2="863.30" stroke="#fba9a4" stroke-width="1"/>
<rect x="562.10" y="849.80" width="33.40" height="8.60" fill="none" stroke="#fba9a4" stroke-width="1"/>
<line x1="562.10" y1="856.00" x2="595.50" y2="856.00" stroke="#f8766d" stroke-width="1.6"/>
<line x1="644.90" y1="731.70" x2="644.90" y2="784.90" stroke="#7fdcdf" stroke-width="1"/>
<line x1="644.90" y1="852.80" x2="644.90" y2="859.90" stroke="#7fdcdf" stroke-width="1"/>
<rect x="628.40" y="784.90" width="33.00" height="67.90" fill="none" stroke="#7fdcdf" stroke-width="1"/>
<line x1="628.40" y1="809.80" x2="661.40" y2="809.80" stroke="#00bfc4" stroke-width="1.6"/>
<g fill="#f0706a" stroke="#4a2a28" stroke-width="0.5"><circle cx="579.40" cy="836.30" r="2.2"/><circle cx="578.05" cy="845.40" r="2.2"/><circle cx="578.97" cy="846.90" r="2.2"/><circle cx="578.73" cy="850.20" r="2.2"/><circle cx="578.69" cy="851.30" r="2.2"/><circle cx="578.39" cy="853.50" r="2.2"/><circle cx="579.32" cy="855.70" r="2.2"/><circle cx="579.57" cy="856.80" r="2.2"/><circle cx="578.44" cy="857.50" r="2.2"/><circle cx="578.89" cy="859.30" r="2.2"/><circle cx="577.45" cy="861.00" r="2.2"/><circle cx="578.98" cy="863.30" r="2.2"/></g>
<g fill="#13b1b6" stroke="#0d3f40" stroke-width="0.5"><circle cx="645.05" cy="731.70" r="2.2"/><circle cx="645.88" cy="754.90" r="2.2"/><circle cx="645.47" cy="780.40" r="2.2"/><circle cx="644.18" cy="786.20" r="2.2"/><circle cx="644.43" cy="807.70" r="2.2"/><circle cx="645.10" cy="809.00" r="2.2"/><circle cx="643.55" cy="812.20" r="2.2"/><circle cx="644.61" cy="845.80" r="2.2"/><circle cx="643.90" cy="852.30" r="2.2"/><circle cx="643.78" cy="853.10" r="2.2"/><circle cx="643.64" cy="857.20" r="2.2"/><circle cx="645.34" cy="859.90" r="2.2"/></g>
<path d="M538.8,677.8 L538.8,872.2 L685,872.2" fill="none" stroke="#555555" stroke-width="1"/>
<line x1="533.5999999999999" y1="694.1" x2="538.8" y2="694.1" stroke="#555555" stroke-width="1"/>
<text x="528.50" y="698.00" font-size="11" text-anchor="end" fill="#231f20" >0.5</text>
<line x1="533.5999999999999" y1="731.2" x2="538.8" y2="731.2" stroke="#555555" stroke-width="1"/>
<text x="528.50" y="735.10" font-size="11" text-anchor="end" fill="#231f20" >0.4</text>
<line x1="533.5999999999999" y1="768.4" x2="538.8" y2="768.4" stroke="#555555" stroke-width="1"/>
<text x="528.50" y="772.30" font-size="11" text-anchor="end" fill="#231f20" >0.3</text>
<line x1="533.5999999999999" y1="805.6" x2="538.8" y2="805.6" stroke="#555555" stroke-width="1"/>
<text x="528.50" y="809.50" font-size="11" text-anchor="end" fill="#231f20" >0.2</text>
<line x1="533.5999999999999" y1="842.8" x2="538.8" y2="842.8" stroke="#555555" stroke-width="1"/>
<text x="528.50" y="846.70" font-size="11" text-anchor="end" fill="#231f20" >0.1</text>
<line x1="578.8" y1="872.2" x2="578.8" y2="877.2" stroke="#555555" stroke-width="1"/>
<line x1="645.0" y1="872.2" x2="645.0" y2="877.2" stroke="#555555" stroke-width="1"/>
<text x="578.80" y="890.90" font-size="10" text-anchor="middle" fill="#231f20" textLength="29.80" lengthAdjust="spacingAndGlyphs" >Sym F</text>
<text x="645.00" y="890.90" font-size="10" text-anchor="middle" fill="#231f20" textLength="29.80" lengthAdjust="spacingAndGlyphs" >Sym F</text>
<text x="579.00" y="902.20" font-size="10" text-anchor="middle" fill="#231f20" textLength="26.00" lengthAdjust="spacingAndGlyphs" ><tspan>Δ</tspan><tspan font-style="italic">intB</tspan></text>
<text x="645.20" y="902.20" font-size="10" text-anchor="middle" fill="#231f20" textLength="52.90" lengthAdjust="spacingAndGlyphs" ><tspan font-style="italic">intB::tnaAB</tspan></text>
<text x="611.90" y="921.90" font-size="12.3" text-anchor="middle" fill="#231f20" textLength="90.80" lengthAdjust="spacingAndGlyphs" >Bacterial strains</text>
<text x="576.60" y="707.70" font-size="12" text-anchor="middle" fill="#231f20" textLength="31.60" lengthAdjust="spacingAndGlyphs" ><tspan font-style="italic">n</tspan><tspan> = 12</tspan></text>
<text x="642.50" y="707.70" font-size="12" text-anchor="middle" fill="#231f20" textLength="30.90" lengthAdjust="spacingAndGlyphs" ><tspan font-style="italic">n</tspan><tspan> = 12</tspan></text>
<line x1="573.0" y1="686.3" x2="643.3" y2="686.3" stroke="#6d6d6d" stroke-width="1.1"/>
<text x="608.20" y="680.60" font-size="12.3" text-anchor="middle" fill="#231f20" textLength="49.90" lengthAdjust="spacingAndGlyphs" ><tspan font-style="italic">P</tspan><tspan> = 0.017</tspan></text>
<text x="500.50" y="774.50" font-size="12.2" text-anchor="middle" fill="#231f20" textLength="207.00" lengthAdjust="spacingAndGlyphs" transform="rotate(-90 500.50 774.50)" ><tspan>Indole level in haemolymph (ng µl</tspan><tspan dy="-4" font-size="8">−1</tspan><tspan dy="4">)</tspan></text></svg>
</body></html>
